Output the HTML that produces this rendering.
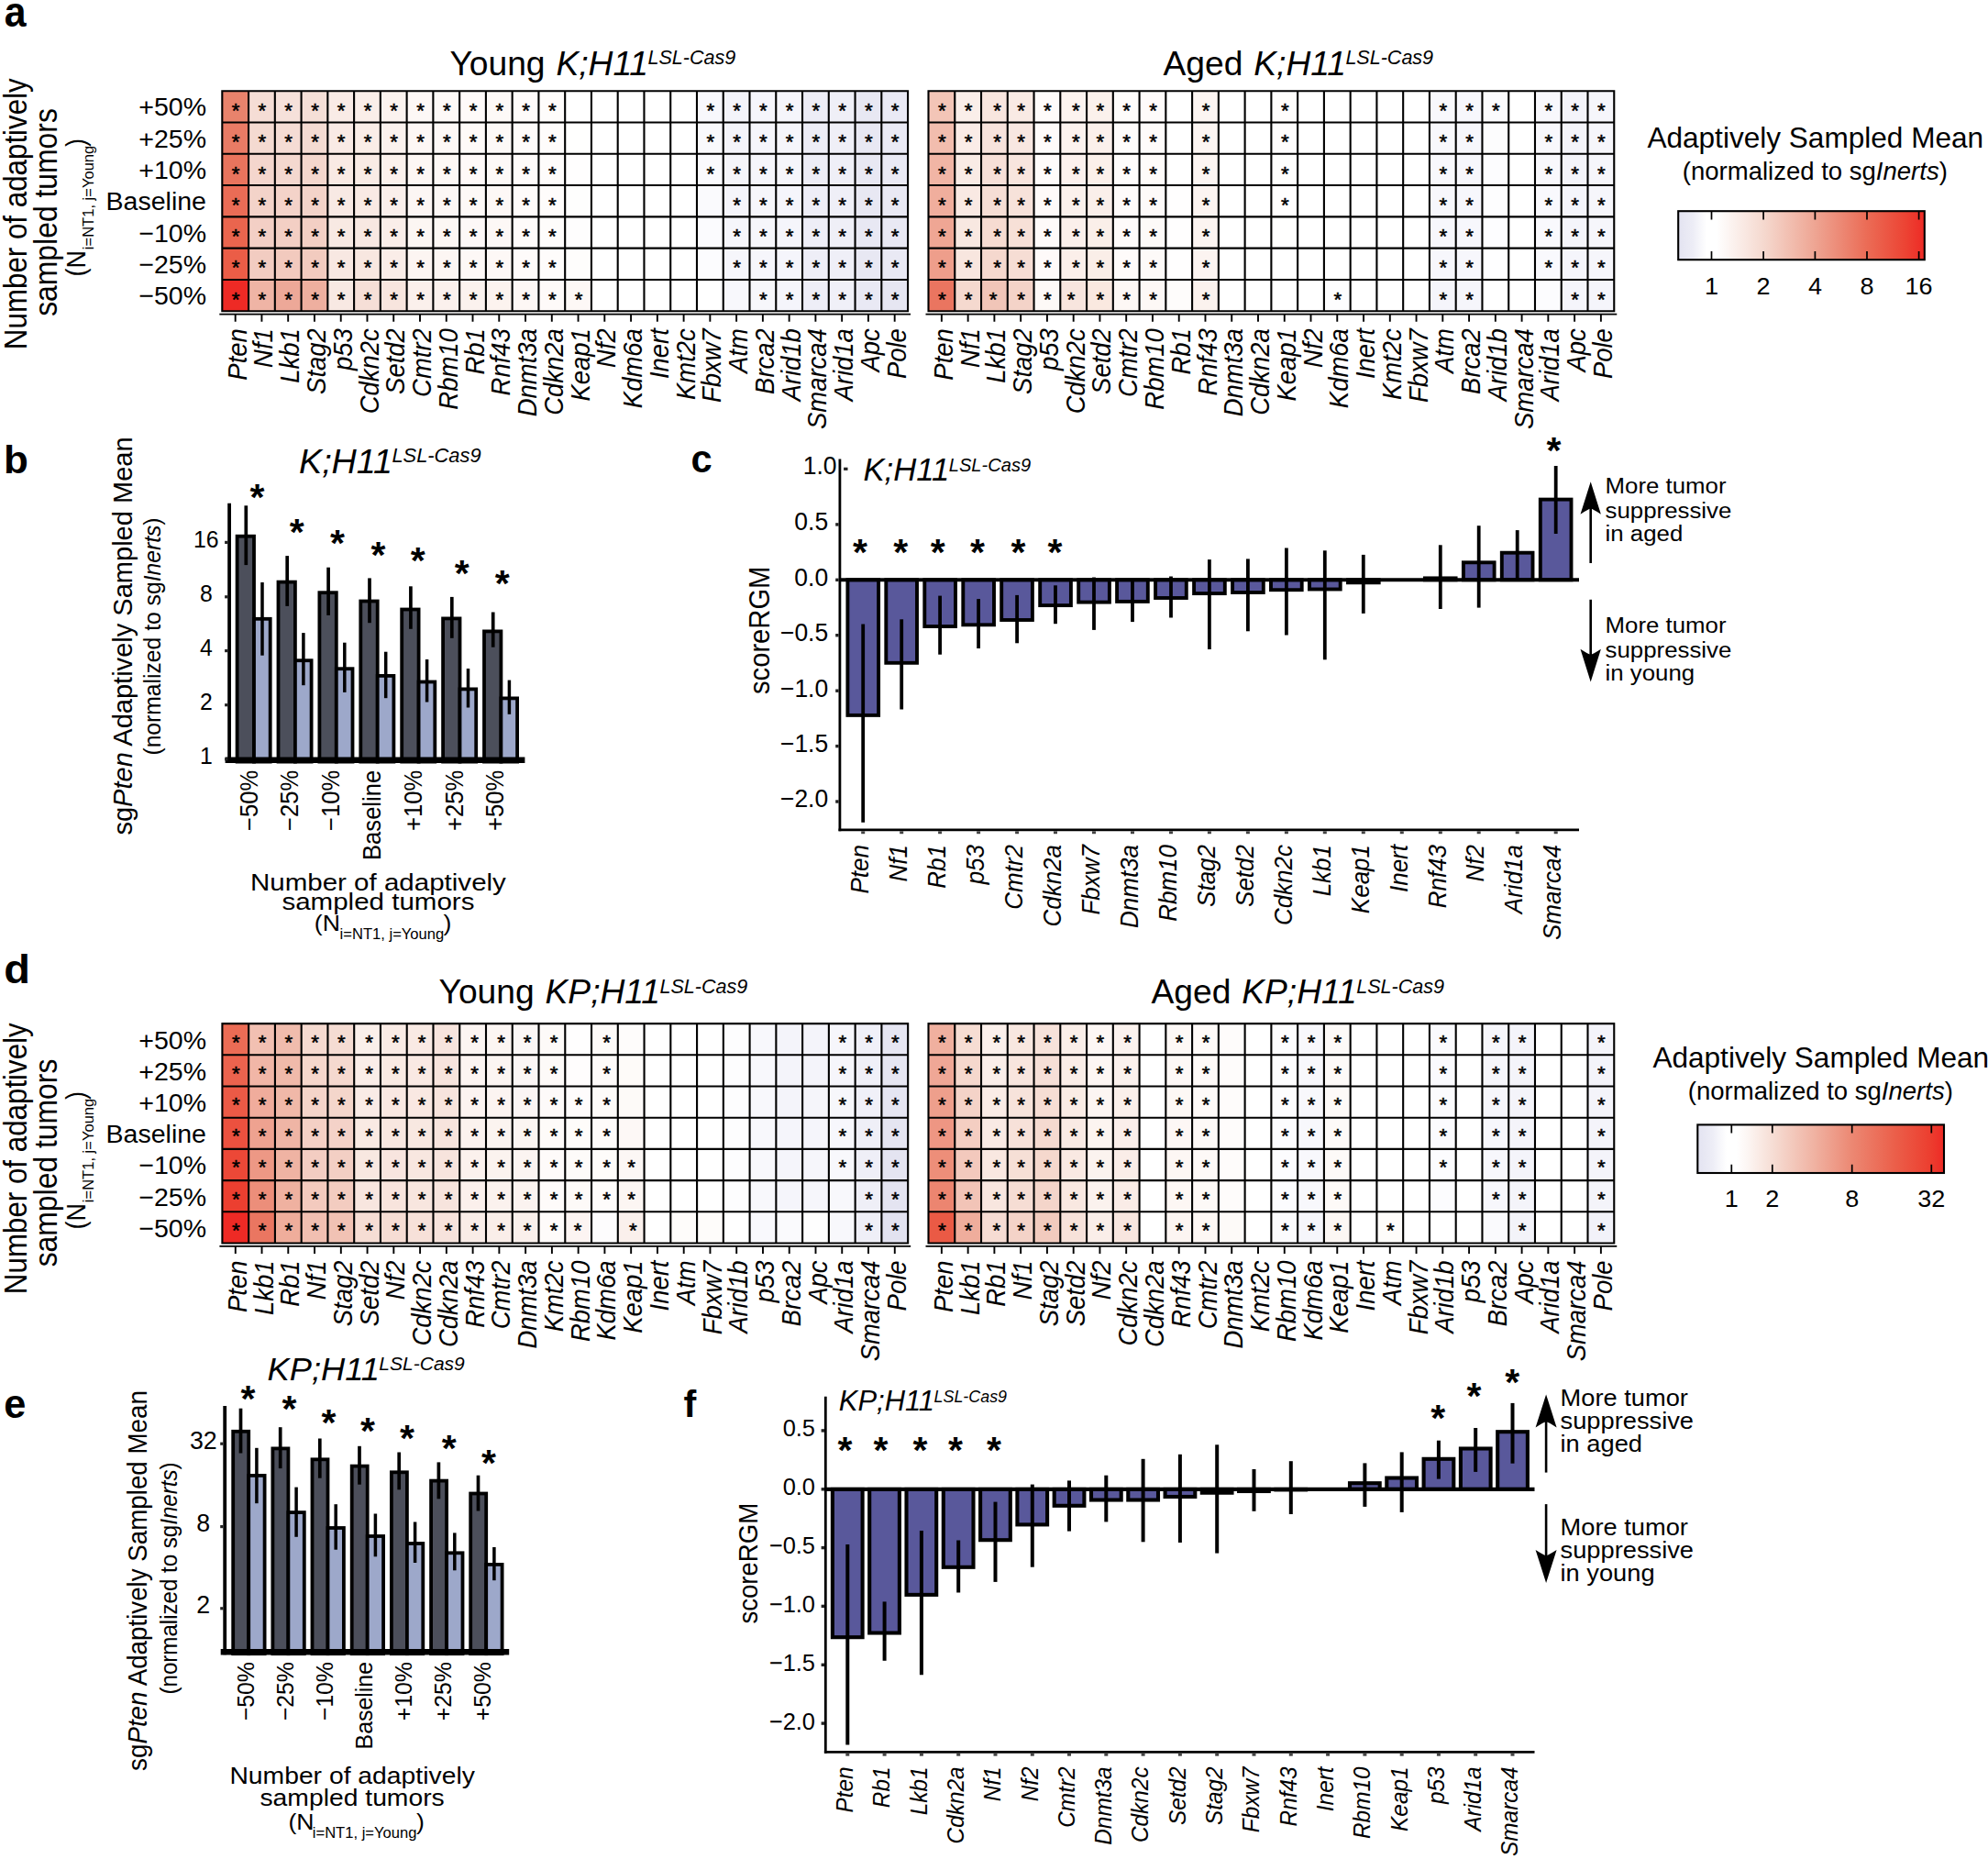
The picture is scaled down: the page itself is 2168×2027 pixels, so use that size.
<!DOCTYPE html>
<html><head><meta charset="utf-8"><title>Figure</title>
<style>html,body{margin:0;padding:0;background:#fff}svg{display:block}.st text{stroke:#000;stroke-width:.5px}text{stroke:none;font-family:"Liberation Sans", Arial, Helvetica, sans-serif;fill:#000}</style>
</head><body>
<svg width="2168" height="2027" viewBox="0 0 2168 2027" stroke="#000">
<rect x="0" y="0" width="2168" height="2027" fill="#fff" stroke="none"/>
<g stroke="#000">
<g id="hm">
<rect x="242.3" y="99.2" width="28.8" height="34.3" fill="#E8836C" stroke="none"/>
<rect x="242.3" y="133.5" width="28.8" height="34.3" fill="#E97B65" stroke="none"/>
<rect x="242.3" y="167.8" width="28.8" height="34.3" fill="#E9745D" stroke="none"/>
<rect x="242.3" y="202.1" width="28.8" height="34.3" fill="#EA6C56" stroke="none"/>
<rect x="242.3" y="236.4" width="28.8" height="34.3" fill="#EA654E" stroke="none"/>
<rect x="242.3" y="270.6" width="28.8" height="34.3" fill="#EB5D47" stroke="none"/>
<rect x="242.3" y="304.9" width="28.8" height="34.3" fill="#EE2A25" stroke="none"/>
<rect x="271.1" y="99.2" width="28.8" height="34.3" fill="#F5DDD5" stroke="none"/>
<rect x="271.1" y="133.5" width="28.8" height="34.3" fill="#F4DAD1" stroke="none"/>
<rect x="271.1" y="167.8" width="28.8" height="34.3" fill="#F4D6CD" stroke="none"/>
<rect x="271.1" y="202.1" width="28.8" height="34.3" fill="#F3D3C9" stroke="none"/>
<rect x="271.1" y="236.4" width="28.8" height="34.3" fill="#F3CFC5" stroke="none"/>
<rect x="271.1" y="270.6" width="28.8" height="34.3" fill="#F2CCC1" stroke="none"/>
<rect x="271.1" y="304.9" width="28.8" height="34.3" fill="#EFB4A5" stroke="none"/>
<rect x="299.8" y="99.2" width="28.8" height="34.3" fill="#F6E1DA" stroke="none"/>
<rect x="299.8" y="133.5" width="28.8" height="34.3" fill="#F5DCD4" stroke="none"/>
<rect x="299.8" y="167.8" width="28.8" height="34.3" fill="#F4D8CF" stroke="none"/>
<rect x="299.8" y="202.1" width="28.8" height="34.3" fill="#F4D3C9" stroke="none"/>
<rect x="299.8" y="236.4" width="28.8" height="34.3" fill="#F3CFC4" stroke="none"/>
<rect x="299.8" y="270.6" width="28.8" height="34.3" fill="#F2CABE" stroke="none"/>
<rect x="299.8" y="304.9" width="28.8" height="34.3" fill="#EDA898" stroke="none"/>
<rect x="328.6" y="99.2" width="28.8" height="34.3" fill="#F5DFD7" stroke="none"/>
<rect x="328.6" y="133.5" width="28.8" height="34.3" fill="#F4DBD2" stroke="none"/>
<rect x="328.6" y="167.8" width="28.8" height="34.3" fill="#F4D7CD" stroke="none"/>
<rect x="328.6" y="202.1" width="28.8" height="34.3" fill="#F3D3C9" stroke="none"/>
<rect x="328.6" y="236.4" width="28.8" height="34.3" fill="#F3CFC4" stroke="none"/>
<rect x="328.6" y="270.6" width="28.8" height="34.3" fill="#F2CBBF" stroke="none"/>
<rect x="328.6" y="304.9" width="28.8" height="34.3" fill="#EEAF9F" stroke="none"/>
<rect x="357.3" y="99.2" width="28.8" height="34.3" fill="#F9EBE6" stroke="none"/>
<rect x="357.3" y="133.5" width="28.8" height="34.3" fill="#F9EAE5" stroke="none"/>
<rect x="357.3" y="167.8" width="28.8" height="34.3" fill="#F9EAE4" stroke="none"/>
<rect x="357.3" y="202.1" width="28.8" height="34.3" fill="#F8E9E4" stroke="none"/>
<rect x="357.3" y="236.4" width="28.8" height="34.3" fill="#F8E9E3" stroke="none"/>
<rect x="357.3" y="270.6" width="28.8" height="34.3" fill="#F8E8E2" stroke="none"/>
<rect x="357.3" y="304.9" width="28.8" height="34.3" fill="#F8E9E3" stroke="none"/>
<rect x="386.1" y="99.2" width="28.8" height="34.3" fill="#FAEEE9" stroke="none"/>
<rect x="386.1" y="133.5" width="28.8" height="34.3" fill="#FAEDE7" stroke="none"/>
<rect x="386.1" y="167.8" width="28.8" height="34.3" fill="#F9EBE5" stroke="none"/>
<rect x="386.1" y="202.1" width="28.8" height="34.3" fill="#F9EAE4" stroke="none"/>
<rect x="386.1" y="236.4" width="28.8" height="34.3" fill="#F8E8E2" stroke="none"/>
<rect x="386.1" y="270.6" width="28.8" height="34.3" fill="#F8E7E0" stroke="none"/>
<rect x="386.1" y="304.9" width="28.8" height="34.3" fill="#F6DFD7" stroke="none"/>
<rect x="414.9" y="99.2" width="28.8" height="34.3" fill="#FBF3EF" stroke="none"/>
<rect x="414.9" y="133.5" width="28.8" height="34.3" fill="#FBF2EE" stroke="none"/>
<rect x="414.9" y="167.8" width="28.8" height="34.3" fill="#FBF1EC" stroke="none"/>
<rect x="414.9" y="202.1" width="28.8" height="34.3" fill="#FAEFEB" stroke="none"/>
<rect x="414.9" y="236.4" width="28.8" height="34.3" fill="#FAEEE9" stroke="none"/>
<rect x="414.9" y="270.6" width="28.8" height="34.3" fill="#FAEDE8" stroke="none"/>
<rect x="414.9" y="304.9" width="28.8" height="34.3" fill="#F8E5DE" stroke="none"/>
<rect x="443.6" y="99.2" width="28.8" height="34.3" fill="#FDF8F6" stroke="none"/>
<rect x="443.6" y="133.5" width="28.8" height="34.3" fill="#FDF7F5" stroke="none"/>
<rect x="443.6" y="167.8" width="28.8" height="34.3" fill="#FDF7F4" stroke="none"/>
<rect x="443.6" y="202.1" width="28.8" height="34.3" fill="#FCF6F4" stroke="none"/>
<rect x="443.6" y="236.4" width="28.8" height="34.3" fill="#FCF6F3" stroke="none"/>
<rect x="443.6" y="270.6" width="28.8" height="34.3" fill="#FCF5F2" stroke="none"/>
<rect x="443.6" y="304.9" width="28.8" height="34.3" fill="#FBF0EC" stroke="none"/>
<rect x="472.4" y="99.2" width="28.8" height="34.3" fill="#FDF9F7" stroke="none"/>
<rect x="472.4" y="133.5" width="28.8" height="34.3" fill="#FDF8F6" stroke="none"/>
<rect x="472.4" y="167.8" width="28.8" height="34.3" fill="#FDF8F5" stroke="none"/>
<rect x="472.4" y="202.1" width="28.8" height="34.3" fill="#FCF7F5" stroke="none"/>
<rect x="472.4" y="236.4" width="28.8" height="34.3" fill="#FCF7F4" stroke="none"/>
<rect x="472.4" y="270.6" width="28.8" height="34.3" fill="#FCF6F3" stroke="none"/>
<rect x="472.4" y="304.9" width="28.8" height="34.3" fill="#FBF1ED" stroke="none"/>
<rect x="501.1" y="99.2" width="28.8" height="34.3" fill="#FEFAF9" stroke="none"/>
<rect x="501.1" y="133.5" width="28.8" height="34.3" fill="#FEFAF8" stroke="none"/>
<rect x="501.1" y="167.8" width="28.8" height="34.3" fill="#FEF9F8" stroke="none"/>
<rect x="501.1" y="202.1" width="28.8" height="34.3" fill="#FDF9F7" stroke="none"/>
<rect x="501.1" y="236.4" width="28.8" height="34.3" fill="#FDF8F7" stroke="none"/>
<rect x="501.1" y="270.6" width="28.8" height="34.3" fill="#FDF8F6" stroke="none"/>
<rect x="501.1" y="304.9" width="28.8" height="34.3" fill="#FBF2EE" stroke="none"/>
<rect x="529.9" y="99.2" width="28.8" height="34.3" fill="#FDF9F7" stroke="none"/>
<rect x="529.9" y="133.5" width="28.8" height="34.3" fill="#FDF9F7" stroke="none"/>
<rect x="529.9" y="167.8" width="28.8" height="34.3" fill="#FDF9F7" stroke="none"/>
<rect x="529.9" y="202.1" width="28.8" height="34.3" fill="#FDF8F6" stroke="none"/>
<rect x="529.9" y="236.4" width="28.8" height="34.3" fill="#FDF8F6" stroke="none"/>
<rect x="529.9" y="270.6" width="28.8" height="34.3" fill="#FDF8F6" stroke="none"/>
<rect x="529.9" y="304.9" width="28.8" height="34.3" fill="#FCF3EF" stroke="none"/>
<rect x="558.7" y="99.2" width="28.8" height="34.3" fill="#FEFBFA" stroke="none"/>
<rect x="558.7" y="133.5" width="28.8" height="34.3" fill="#FEFBFA" stroke="none"/>
<rect x="558.7" y="167.8" width="28.8" height="34.3" fill="#FEFBFA" stroke="none"/>
<rect x="558.7" y="202.1" width="28.8" height="34.3" fill="#FEFBFA" stroke="none"/>
<rect x="558.7" y="236.4" width="28.8" height="34.3" fill="#FEFBFA" stroke="none"/>
<rect x="558.7" y="270.6" width="28.8" height="34.3" fill="#FEFBFA" stroke="none"/>
<rect x="558.7" y="304.9" width="28.8" height="34.3" fill="#FDF7F5" stroke="none"/>
<rect x="587.4" y="99.2" width="28.8" height="34.3" fill="#FEFCFB" stroke="none"/>
<rect x="587.4" y="133.5" width="28.8" height="34.3" fill="#FEFCFB" stroke="none"/>
<rect x="587.4" y="167.8" width="28.8" height="34.3" fill="#FEFCFB" stroke="none"/>
<rect x="587.4" y="202.1" width="28.8" height="34.3" fill="#FEFCFB" stroke="none"/>
<rect x="587.4" y="236.4" width="28.8" height="34.3" fill="#FEFCFB" stroke="none"/>
<rect x="587.4" y="270.6" width="28.8" height="34.3" fill="#FEFCFB" stroke="none"/>
<rect x="587.4" y="304.9" width="28.8" height="34.3" fill="#FEFAF9" stroke="none"/>
<rect x="616.2" y="133.5" width="28.8" height="34.3" fill="#FFFFFE" stroke="none"/>
<rect x="616.2" y="167.8" width="28.8" height="34.3" fill="#FFFEFE" stroke="none"/>
<rect x="616.2" y="202.1" width="28.8" height="34.3" fill="#FEFEFD" stroke="none"/>
<rect x="616.2" y="236.4" width="28.8" height="34.3" fill="#FEFDFD" stroke="none"/>
<rect x="616.2" y="270.6" width="28.8" height="34.3" fill="#FEFDFC" stroke="none"/>
<rect x="616.2" y="304.9" width="28.8" height="34.3" fill="#FDF8F6" stroke="none"/>
<rect x="760.0" y="99.2" width="28.8" height="34.3" fill="#F8F8FC" stroke="none"/>
<rect x="760.0" y="133.5" width="28.8" height="34.3" fill="#F9F9FC" stroke="none"/>
<rect x="760.0" y="167.8" width="28.8" height="34.3" fill="#FAFAFD" stroke="none"/>
<rect x="760.0" y="202.1" width="28.8" height="34.3" fill="#FAFAFD" stroke="none"/>
<rect x="760.0" y="236.4" width="28.8" height="34.3" fill="#FBFBFE" stroke="none"/>
<rect x="760.0" y="270.6" width="28.8" height="34.3" fill="#FCFCFE" stroke="none"/>
<rect x="788.7" y="99.2" width="28.8" height="34.3" fill="#F4F4FA" stroke="none"/>
<rect x="788.7" y="133.5" width="28.8" height="34.3" fill="#F4F4FA" stroke="none"/>
<rect x="788.7" y="167.8" width="28.8" height="34.3" fill="#F5F5FA" stroke="none"/>
<rect x="788.7" y="202.1" width="28.8" height="34.3" fill="#F5F5FB" stroke="none"/>
<rect x="788.7" y="236.4" width="28.8" height="34.3" fill="#F6F6FB" stroke="none"/>
<rect x="788.7" y="270.6" width="28.8" height="34.3" fill="#F6F6FB" stroke="none"/>
<rect x="788.7" y="304.9" width="28.8" height="34.3" fill="#F8F8FC" stroke="none"/>
<rect x="817.5" y="99.2" width="28.8" height="34.3" fill="#F5F5FB" stroke="none"/>
<rect x="817.5" y="133.5" width="28.8" height="34.3" fill="#F5F5FB" stroke="none"/>
<rect x="817.5" y="167.8" width="28.8" height="34.3" fill="#F5F5FB" stroke="none"/>
<rect x="817.5" y="202.1" width="28.8" height="34.3" fill="#F6F6FB" stroke="none"/>
<rect x="817.5" y="236.4" width="28.8" height="34.3" fill="#F6F6FB" stroke="none"/>
<rect x="817.5" y="270.6" width="28.8" height="34.3" fill="#F6F6FB" stroke="none"/>
<rect x="817.5" y="304.9" width="28.8" height="34.3" fill="#F7F7FB" stroke="none"/>
<rect x="846.3" y="99.2" width="28.8" height="34.3" fill="#F5F5FB" stroke="none"/>
<rect x="846.3" y="133.5" width="28.8" height="34.3" fill="#F5F5FB" stroke="none"/>
<rect x="846.3" y="167.8" width="28.8" height="34.3" fill="#F5F5FB" stroke="none"/>
<rect x="846.3" y="202.1" width="28.8" height="34.3" fill="#F5F5FB" stroke="none"/>
<rect x="846.3" y="236.4" width="28.8" height="34.3" fill="#F5F5FB" stroke="none"/>
<rect x="846.3" y="270.6" width="28.8" height="34.3" fill="#F5F5FB" stroke="none"/>
<rect x="846.3" y="304.9" width="28.8" height="34.3" fill="#F5F5FB" stroke="none"/>
<rect x="875.0" y="99.2" width="28.8" height="34.3" fill="#EDEDF6" stroke="none"/>
<rect x="875.0" y="133.5" width="28.8" height="34.3" fill="#EDEDF6" stroke="none"/>
<rect x="875.0" y="167.8" width="28.8" height="34.3" fill="#EDEDF6" stroke="none"/>
<rect x="875.0" y="202.1" width="28.8" height="34.3" fill="#EEEEF7" stroke="none"/>
<rect x="875.0" y="236.4" width="28.8" height="34.3" fill="#EEEEF7" stroke="none"/>
<rect x="875.0" y="270.6" width="28.8" height="34.3" fill="#EEEEF7" stroke="none"/>
<rect x="875.0" y="304.9" width="28.8" height="34.3" fill="#EEEEF7" stroke="none"/>
<rect x="903.8" y="99.2" width="28.8" height="34.3" fill="#EFEFF7" stroke="none"/>
<rect x="903.8" y="133.5" width="28.8" height="34.3" fill="#EFEFF7" stroke="none"/>
<rect x="903.8" y="167.8" width="28.8" height="34.3" fill="#EFEFF7" stroke="none"/>
<rect x="903.8" y="202.1" width="28.8" height="34.3" fill="#EFEFF7" stroke="none"/>
<rect x="903.8" y="236.4" width="28.8" height="34.3" fill="#EFEFF7" stroke="none"/>
<rect x="903.8" y="270.6" width="28.8" height="34.3" fill="#EFEFF7" stroke="none"/>
<rect x="903.8" y="304.9" width="28.8" height="34.3" fill="#F0F0F8" stroke="none"/>
<rect x="932.5" y="99.2" width="28.8" height="34.3" fill="#E8E8F3" stroke="none"/>
<rect x="932.5" y="133.5" width="28.8" height="34.3" fill="#E8E8F3" stroke="none"/>
<rect x="932.5" y="167.8" width="28.8" height="34.3" fill="#E8E8F3" stroke="none"/>
<rect x="932.5" y="202.1" width="28.8" height="34.3" fill="#E8E8F3" stroke="none"/>
<rect x="932.5" y="236.4" width="28.8" height="34.3" fill="#E8E8F3" stroke="none"/>
<rect x="932.5" y="270.6" width="28.8" height="34.3" fill="#E8E8F3" stroke="none"/>
<rect x="932.5" y="304.9" width="28.8" height="34.3" fill="#E9E9F4" stroke="none"/>
<rect x="961.3" y="99.2" width="28.8" height="34.3" fill="#EAEAF5" stroke="none"/>
<rect x="961.3" y="133.5" width="28.8" height="34.3" fill="#EAEAF5" stroke="none"/>
<rect x="961.3" y="167.8" width="28.8" height="34.3" fill="#EAEAF5" stroke="none"/>
<rect x="961.3" y="202.1" width="28.8" height="34.3" fill="#E9E9F4" stroke="none"/>
<rect x="961.3" y="236.4" width="28.8" height="34.3" fill="#E9E9F4" stroke="none"/>
<rect x="961.3" y="270.6" width="28.8" height="34.3" fill="#E9E9F4" stroke="none"/>
<rect x="961.3" y="304.9" width="28.8" height="34.3" fill="#E6E6F2" stroke="none"/>
<path d="M242.30 98.30V340.13M271.06 98.30V340.13M299.82 98.30V340.13M328.58 98.30V340.13M357.34 98.30V340.13M386.10 98.30V340.13M414.86 98.30V340.13M443.62 98.30V340.13M472.38 98.30V340.13M501.14 98.30V340.13M529.90 98.30V340.13M558.66 98.30V340.13M587.42 98.30V340.13M616.18 98.30V340.13M644.94 98.30V340.13M673.70 98.30V340.13M702.46 98.30V340.13M731.22 98.30V340.13M759.98 98.30V340.13M788.74 98.30V340.13M817.50 98.30V340.13M846.26 98.30V340.13M875.02 98.30V340.13M903.78 98.30V340.13M932.54 98.30V340.13M961.30 98.30V340.13M990.06 98.30V340.13M241.40 99.20H990.96M241.40 133.49H990.96M241.40 167.78H990.96M241.40 202.07H990.96M241.40 236.36H990.96M241.40 270.65H990.96M241.40 304.94H990.96M241.40 339.23H990.96" stroke-width="2.1" fill="none"/>
<path d="M239.30 342.63H993.06M256.68 342.63V350.63M285.44 342.63V350.63M314.20 342.63V350.63M342.96 342.63V350.63M371.72 342.63V350.63M400.48 342.63V350.63M429.24 342.63V350.63M458.00 342.63V350.63M486.76 342.63V350.63M515.52 342.63V350.63M544.28 342.63V350.63M573.04 342.63V350.63M601.80 342.63V350.63M630.56 342.63V350.63M659.32 342.63V350.63M688.08 342.63V350.63M716.84 342.63V350.63M745.60 342.63V350.63M774.36 342.63V350.63M803.12 342.63V350.63M831.88 342.63V350.63M860.64 342.63V350.63M889.40 342.63V350.63M918.16 342.63V350.63M946.92 342.63V350.63M975.68 342.63V350.63" stroke-width="1.9" fill="none"/>
<g class="st" font-size="21.5" text-anchor="middle">
<text transform="translate(257.2 127.9) scale(1.04 1)">*</text>
<text transform="translate(285.9 127.9) scale(1.04 1)">*</text>
<text transform="translate(314.7 127.9) scale(1.04 1)">*</text>
<text transform="translate(343.5 127.9) scale(1.04 1)">*</text>
<text transform="translate(372.2 127.9) scale(1.04 1)">*</text>
<text transform="translate(401.0 127.9) scale(1.04 1)">*</text>
<text transform="translate(429.7 127.9) scale(1.04 1)">*</text>
<text transform="translate(458.5 127.9) scale(1.04 1)">*</text>
<text transform="translate(487.3 127.9) scale(1.04 1)">*</text>
<text transform="translate(516.0 127.9) scale(1.04 1)">*</text>
<text transform="translate(544.8 127.9) scale(1.04 1)">*</text>
<text transform="translate(573.5 127.9) scale(1.04 1)">*</text>
<text transform="translate(602.3 127.9) scale(1.04 1)">*</text>
<text transform="translate(774.9 127.9) scale(1.04 1)">*</text>
<text transform="translate(803.6 127.9) scale(1.04 1)">*</text>
<text transform="translate(832.4 127.9) scale(1.04 1)">*</text>
<text transform="translate(861.1 127.9) scale(1.04 1)">*</text>
<text transform="translate(889.9 127.9) scale(1.04 1)">*</text>
<text transform="translate(918.7 127.9) scale(1.04 1)">*</text>
<text transform="translate(947.4 127.9) scale(1.04 1)">*</text>
<text transform="translate(976.2 127.9) scale(1.04 1)">*</text>
<text transform="translate(257.2 162.2) scale(1.04 1)">*</text>
<text transform="translate(285.9 162.2) scale(1.04 1)">*</text>
<text transform="translate(314.7 162.2) scale(1.04 1)">*</text>
<text transform="translate(343.5 162.2) scale(1.04 1)">*</text>
<text transform="translate(372.2 162.2) scale(1.04 1)">*</text>
<text transform="translate(401.0 162.2) scale(1.04 1)">*</text>
<text transform="translate(429.7 162.2) scale(1.04 1)">*</text>
<text transform="translate(458.5 162.2) scale(1.04 1)">*</text>
<text transform="translate(487.3 162.2) scale(1.04 1)">*</text>
<text transform="translate(516.0 162.2) scale(1.04 1)">*</text>
<text transform="translate(544.8 162.2) scale(1.04 1)">*</text>
<text transform="translate(573.5 162.2) scale(1.04 1)">*</text>
<text transform="translate(602.3 162.2) scale(1.04 1)">*</text>
<text transform="translate(774.9 162.2) scale(1.04 1)">*</text>
<text transform="translate(803.6 162.2) scale(1.04 1)">*</text>
<text transform="translate(832.4 162.2) scale(1.04 1)">*</text>
<text transform="translate(861.1 162.2) scale(1.04 1)">*</text>
<text transform="translate(889.9 162.2) scale(1.04 1)">*</text>
<text transform="translate(918.7 162.2) scale(1.04 1)">*</text>
<text transform="translate(947.4 162.2) scale(1.04 1)">*</text>
<text transform="translate(976.2 162.2) scale(1.04 1)">*</text>
<text transform="translate(257.2 196.5) scale(1.04 1)">*</text>
<text transform="translate(285.9 196.5) scale(1.04 1)">*</text>
<text transform="translate(314.7 196.5) scale(1.04 1)">*</text>
<text transform="translate(343.5 196.5) scale(1.04 1)">*</text>
<text transform="translate(372.2 196.5) scale(1.04 1)">*</text>
<text transform="translate(401.0 196.5) scale(1.04 1)">*</text>
<text transform="translate(429.7 196.5) scale(1.04 1)">*</text>
<text transform="translate(458.5 196.5) scale(1.04 1)">*</text>
<text transform="translate(487.3 196.5) scale(1.04 1)">*</text>
<text transform="translate(516.0 196.5) scale(1.04 1)">*</text>
<text transform="translate(544.8 196.5) scale(1.04 1)">*</text>
<text transform="translate(573.5 196.5) scale(1.04 1)">*</text>
<text transform="translate(602.3 196.5) scale(1.04 1)">*</text>
<text transform="translate(774.9 196.5) scale(1.04 1)">*</text>
<text transform="translate(803.6 196.5) scale(1.04 1)">*</text>
<text transform="translate(832.4 196.5) scale(1.04 1)">*</text>
<text transform="translate(861.1 196.5) scale(1.04 1)">*</text>
<text transform="translate(889.9 196.5) scale(1.04 1)">*</text>
<text transform="translate(918.7 196.5) scale(1.04 1)">*</text>
<text transform="translate(947.4 196.5) scale(1.04 1)">*</text>
<text transform="translate(976.2 196.5) scale(1.04 1)">*</text>
<text transform="translate(257.2 230.8) scale(1.04 1)">*</text>
<text transform="translate(285.9 230.8) scale(1.04 1)">*</text>
<text transform="translate(314.7 230.8) scale(1.04 1)">*</text>
<text transform="translate(343.5 230.8) scale(1.04 1)">*</text>
<text transform="translate(372.2 230.8) scale(1.04 1)">*</text>
<text transform="translate(401.0 230.8) scale(1.04 1)">*</text>
<text transform="translate(429.7 230.8) scale(1.04 1)">*</text>
<text transform="translate(458.5 230.8) scale(1.04 1)">*</text>
<text transform="translate(487.3 230.8) scale(1.04 1)">*</text>
<text transform="translate(516.0 230.8) scale(1.04 1)">*</text>
<text transform="translate(544.8 230.8) scale(1.04 1)">*</text>
<text transform="translate(573.5 230.8) scale(1.04 1)">*</text>
<text transform="translate(602.3 230.8) scale(1.04 1)">*</text>
<text transform="translate(803.6 230.8) scale(1.04 1)">*</text>
<text transform="translate(832.4 230.8) scale(1.04 1)">*</text>
<text transform="translate(861.1 230.8) scale(1.04 1)">*</text>
<text transform="translate(889.9 230.8) scale(1.04 1)">*</text>
<text transform="translate(918.7 230.8) scale(1.04 1)">*</text>
<text transform="translate(947.4 230.8) scale(1.04 1)">*</text>
<text transform="translate(976.2 230.8) scale(1.04 1)">*</text>
<text transform="translate(257.2 265.1) scale(1.04 1)">*</text>
<text transform="translate(285.9 265.1) scale(1.04 1)">*</text>
<text transform="translate(314.7 265.1) scale(1.04 1)">*</text>
<text transform="translate(343.5 265.1) scale(1.04 1)">*</text>
<text transform="translate(372.2 265.1) scale(1.04 1)">*</text>
<text transform="translate(401.0 265.1) scale(1.04 1)">*</text>
<text transform="translate(429.7 265.1) scale(1.04 1)">*</text>
<text transform="translate(458.5 265.1) scale(1.04 1)">*</text>
<text transform="translate(487.3 265.1) scale(1.04 1)">*</text>
<text transform="translate(516.0 265.1) scale(1.04 1)">*</text>
<text transform="translate(544.8 265.1) scale(1.04 1)">*</text>
<text transform="translate(573.5 265.1) scale(1.04 1)">*</text>
<text transform="translate(602.3 265.1) scale(1.04 1)">*</text>
<text transform="translate(803.6 265.1) scale(1.04 1)">*</text>
<text transform="translate(832.4 265.1) scale(1.04 1)">*</text>
<text transform="translate(861.1 265.1) scale(1.04 1)">*</text>
<text transform="translate(889.9 265.1) scale(1.04 1)">*</text>
<text transform="translate(918.7 265.1) scale(1.04 1)">*</text>
<text transform="translate(947.4 265.1) scale(1.04 1)">*</text>
<text transform="translate(976.2 265.1) scale(1.04 1)">*</text>
<text transform="translate(257.2 299.4) scale(1.04 1)">*</text>
<text transform="translate(285.9 299.4) scale(1.04 1)">*</text>
<text transform="translate(314.7 299.4) scale(1.04 1)">*</text>
<text transform="translate(343.5 299.4) scale(1.04 1)">*</text>
<text transform="translate(372.2 299.4) scale(1.04 1)">*</text>
<text transform="translate(401.0 299.4) scale(1.04 1)">*</text>
<text transform="translate(429.7 299.4) scale(1.04 1)">*</text>
<text transform="translate(458.5 299.4) scale(1.04 1)">*</text>
<text transform="translate(487.3 299.4) scale(1.04 1)">*</text>
<text transform="translate(516.0 299.4) scale(1.04 1)">*</text>
<text transform="translate(544.8 299.4) scale(1.04 1)">*</text>
<text transform="translate(573.5 299.4) scale(1.04 1)">*</text>
<text transform="translate(602.3 299.4) scale(1.04 1)">*</text>
<text transform="translate(803.6 299.4) scale(1.04 1)">*</text>
<text transform="translate(832.4 299.4) scale(1.04 1)">*</text>
<text transform="translate(861.1 299.4) scale(1.04 1)">*</text>
<text transform="translate(889.9 299.4) scale(1.04 1)">*</text>
<text transform="translate(918.7 299.4) scale(1.04 1)">*</text>
<text transform="translate(947.4 299.4) scale(1.04 1)">*</text>
<text transform="translate(976.2 299.4) scale(1.04 1)">*</text>
<text transform="translate(257.2 333.7) scale(1.04 1)">*</text>
<text transform="translate(285.9 333.7) scale(1.04 1)">*</text>
<text transform="translate(314.7 333.7) scale(1.04 1)">*</text>
<text transform="translate(343.5 333.7) scale(1.04 1)">*</text>
<text transform="translate(372.2 333.7) scale(1.04 1)">*</text>
<text transform="translate(401.0 333.7) scale(1.04 1)">*</text>
<text transform="translate(429.7 333.7) scale(1.04 1)">*</text>
<text transform="translate(458.5 333.7) scale(1.04 1)">*</text>
<text transform="translate(487.3 333.7) scale(1.04 1)">*</text>
<text transform="translate(516.0 333.7) scale(1.04 1)">*</text>
<text transform="translate(544.8 333.7) scale(1.04 1)">*</text>
<text transform="translate(573.5 333.7) scale(1.04 1)">*</text>
<text transform="translate(602.3 333.7) scale(1.04 1)">*</text>
<text transform="translate(631.1 333.7) scale(1.04 1)">*</text>
<text transform="translate(832.4 333.7) scale(1.04 1)">*</text>
<text transform="translate(861.1 333.7) scale(1.04 1)">*</text>
<text transform="translate(889.9 333.7) scale(1.04 1)">*</text>
<text transform="translate(918.7 333.7) scale(1.04 1)">*</text>
<text transform="translate(947.4 333.7) scale(1.04 1)">*</text>
<text transform="translate(976.2 333.7) scale(1.04 1)">*</text>
</g>
<g font-size="28.6" font-style="italic" text-anchor="end">
<text transform="translate(268.7 358.2) rotate(-90) scale(0.96 1)">Pten</text>
<text transform="translate(297.4 358.2) rotate(-90) scale(0.96 1)">Nf1</text>
<text transform="translate(326.2 358.2) rotate(-90) scale(0.96 1)">Lkb1</text>
<text transform="translate(355.0 358.2) rotate(-90) scale(0.96 1)">Stag2</text>
<text transform="translate(383.7 358.2) rotate(-90) scale(0.96 1)">p53</text>
<text transform="translate(412.5 358.2) rotate(-90) scale(0.96 1)">Cdkn2c</text>
<text transform="translate(441.2 358.2) rotate(-90) scale(0.96 1)">Setd2</text>
<text transform="translate(470.0 358.2) rotate(-90) scale(0.96 1)">Cmtr2</text>
<text transform="translate(498.8 358.2) rotate(-90) scale(0.96 1)">Rbm10</text>
<text transform="translate(527.5 358.2) rotate(-90) scale(0.96 1)">Rb1</text>
<text transform="translate(556.3 358.2) rotate(-90) scale(0.96 1)">Rnf43</text>
<text transform="translate(585.0 358.2) rotate(-90) scale(0.96 1)">Dnmt3a</text>
<text transform="translate(613.8 358.2) rotate(-90) scale(0.96 1)">Cdkn2a</text>
<text transform="translate(642.6 358.2) rotate(-90) scale(0.96 1)">Keap1</text>
<text transform="translate(671.3 358.2) rotate(-90) scale(0.96 1)">Nf2</text>
<text transform="translate(700.1 358.2) rotate(-90) scale(0.96 1)">Kdm6a</text>
<text transform="translate(728.8 358.2) rotate(-90) scale(0.96 1)">Inert</text>
<text transform="translate(757.6 358.2) rotate(-90) scale(0.96 1)">Kmt2c</text>
<text transform="translate(786.4 358.2) rotate(-90) scale(0.96 1)">Fbxw7</text>
<text transform="translate(815.1 358.2) rotate(-90) scale(0.96 1)">Atm</text>
<text transform="translate(843.9 358.2) rotate(-90) scale(0.96 1)">Brca2</text>
<text transform="translate(872.6 358.2) rotate(-90) scale(0.96 1)">Arid1b</text>
<text transform="translate(901.4 358.2) rotate(-90) scale(0.96 1)">Smarca4</text>
<text transform="translate(930.2 358.2) rotate(-90) scale(0.96 1)">Arid1a</text>
<text transform="translate(958.9 358.2) rotate(-90) scale(0.96 1)">Apc</text>
<text transform="translate(987.7 358.2) rotate(-90) scale(0.96 1)">Pole</text>
</g>
<rect x="1012.5" y="99.2" width="28.8" height="34.3" fill="#F3C5B7" stroke="none"/>
<rect x="1012.5" y="133.5" width="28.8" height="34.3" fill="#F2BDAE" stroke="none"/>
<rect x="1012.5" y="167.8" width="28.8" height="34.3" fill="#F1B5A5" stroke="none"/>
<rect x="1012.5" y="202.1" width="28.8" height="34.3" fill="#F0AE9D" stroke="none"/>
<rect x="1012.5" y="236.4" width="28.8" height="34.3" fill="#EFA694" stroke="none"/>
<rect x="1012.5" y="270.6" width="28.8" height="34.3" fill="#EE9E8B" stroke="none"/>
<rect x="1012.5" y="304.9" width="28.8" height="34.3" fill="#EA7560" stroke="none"/>
<rect x="1041.3" y="99.2" width="28.8" height="34.3" fill="#FAEEE9" stroke="none"/>
<rect x="1041.3" y="133.5" width="28.8" height="34.3" fill="#FAECE7" stroke="none"/>
<rect x="1041.3" y="167.8" width="28.8" height="34.3" fill="#F9EBE5" stroke="none"/>
<rect x="1041.3" y="202.1" width="28.8" height="34.3" fill="#F9E9E3" stroke="none"/>
<rect x="1041.3" y="236.4" width="28.8" height="34.3" fill="#F8E8E1" stroke="none"/>
<rect x="1041.3" y="270.6" width="28.8" height="34.3" fill="#F8E6DF" stroke="none"/>
<rect x="1041.3" y="304.9" width="28.8" height="34.3" fill="#F5D9CF" stroke="none"/>
<rect x="1070.0" y="99.2" width="28.8" height="34.3" fill="#F8E6DF" stroke="none"/>
<rect x="1070.0" y="133.5" width="28.8" height="34.3" fill="#F7E3DC" stroke="none"/>
<rect x="1070.0" y="167.8" width="28.8" height="34.3" fill="#F7E0D8" stroke="none"/>
<rect x="1070.0" y="202.1" width="28.8" height="34.3" fill="#F6DED5" stroke="none"/>
<rect x="1070.0" y="236.4" width="28.8" height="34.3" fill="#F6DBD1" stroke="none"/>
<rect x="1070.0" y="270.6" width="28.8" height="34.3" fill="#F5D8CE" stroke="none"/>
<rect x="1070.0" y="304.9" width="28.8" height="34.3" fill="#F1C5B8" stroke="none"/>
<rect x="1098.8" y="99.2" width="28.8" height="34.3" fill="#F9EAE4" stroke="none"/>
<rect x="1098.8" y="133.5" width="28.8" height="34.3" fill="#F8E7E1" stroke="none"/>
<rect x="1098.8" y="167.8" width="28.8" height="34.3" fill="#F8E5DE" stroke="none"/>
<rect x="1098.8" y="202.1" width="28.8" height="34.3" fill="#F7E2DA" stroke="none"/>
<rect x="1098.8" y="236.4" width="28.8" height="34.3" fill="#F7E0D7" stroke="none"/>
<rect x="1098.8" y="270.6" width="28.8" height="34.3" fill="#F6DDD4" stroke="none"/>
<rect x="1098.8" y="304.9" width="28.8" height="34.3" fill="#F4D3C8" stroke="none"/>
<rect x="1127.5" y="99.2" width="28.8" height="34.3" fill="#FEFBFA" stroke="none"/>
<rect x="1127.5" y="133.5" width="28.8" height="34.3" fill="#FEFBFA" stroke="none"/>
<rect x="1127.5" y="167.8" width="28.8" height="34.3" fill="#FEFBFA" stroke="none"/>
<rect x="1127.5" y="202.1" width="28.8" height="34.3" fill="#FEFAF9" stroke="none"/>
<rect x="1127.5" y="236.4" width="28.8" height="34.3" fill="#FEFAF9" stroke="none"/>
<rect x="1127.5" y="270.6" width="28.8" height="34.3" fill="#FEFAF9" stroke="none"/>
<rect x="1127.5" y="304.9" width="28.8" height="34.3" fill="#FDF9F7" stroke="none"/>
<rect x="1156.3" y="99.2" width="28.8" height="34.3" fill="#FCF3EF" stroke="none"/>
<rect x="1156.3" y="133.5" width="28.8" height="34.3" fill="#FCF2EE" stroke="none"/>
<rect x="1156.3" y="167.8" width="28.8" height="34.3" fill="#FCF1ED" stroke="none"/>
<rect x="1156.3" y="202.1" width="28.8" height="34.3" fill="#FBF1EC" stroke="none"/>
<rect x="1156.3" y="236.4" width="28.8" height="34.3" fill="#FBF0EB" stroke="none"/>
<rect x="1156.3" y="270.6" width="28.8" height="34.3" fill="#FBEFEA" stroke="none"/>
<rect x="1156.3" y="304.9" width="28.8" height="34.3" fill="#F8E5DE" stroke="none"/>
<rect x="1185.1" y="99.2" width="28.8" height="34.3" fill="#FBF1EC" stroke="none"/>
<rect x="1185.1" y="133.5" width="28.8" height="34.3" fill="#FBF0EB" stroke="none"/>
<rect x="1185.1" y="167.8" width="28.8" height="34.3" fill="#FBF0EA" stroke="none"/>
<rect x="1185.1" y="202.1" width="28.8" height="34.3" fill="#FAEFEA" stroke="none"/>
<rect x="1185.1" y="236.4" width="28.8" height="34.3" fill="#FAEFE9" stroke="none"/>
<rect x="1185.1" y="270.6" width="28.8" height="34.3" fill="#FAEEE8" stroke="none"/>
<rect x="1185.1" y="304.9" width="28.8" height="34.3" fill="#FAE9E0" stroke="none"/>
<rect x="1213.8" y="99.2" width="28.8" height="34.3" fill="#FEFCFB" stroke="none"/>
<rect x="1213.8" y="133.5" width="28.8" height="34.3" fill="#FEFCFB" stroke="none"/>
<rect x="1213.8" y="167.8" width="28.8" height="34.3" fill="#FEFCFB" stroke="none"/>
<rect x="1213.8" y="202.1" width="28.8" height="34.3" fill="#FEFBFA" stroke="none"/>
<rect x="1213.8" y="236.4" width="28.8" height="34.3" fill="#FEFBFA" stroke="none"/>
<rect x="1213.8" y="270.6" width="28.8" height="34.3" fill="#FEFBFA" stroke="none"/>
<rect x="1213.8" y="304.9" width="28.8" height="34.3" fill="#FDF8F5" stroke="none"/>
<rect x="1242.6" y="99.2" width="28.8" height="34.3" fill="#FEFBFA" stroke="none"/>
<rect x="1242.6" y="133.5" width="28.8" height="34.3" fill="#FEFBFA" stroke="none"/>
<rect x="1242.6" y="167.8" width="28.8" height="34.3" fill="#FEFBF9" stroke="none"/>
<rect x="1242.6" y="202.1" width="28.8" height="34.3" fill="#FDFAF9" stroke="none"/>
<rect x="1242.6" y="236.4" width="28.8" height="34.3" fill="#FDFAF8" stroke="none"/>
<rect x="1242.6" y="270.6" width="28.8" height="34.3" fill="#FDFAF8" stroke="none"/>
<rect x="1242.6" y="304.9" width="28.8" height="34.3" fill="#FDF8F6" stroke="none"/>
<rect x="1271.3" y="202.1" width="28.8" height="34.3" fill="#FFFEFE" stroke="none"/>
<rect x="1271.3" y="236.4" width="28.8" height="34.3" fill="#FFFEFE" stroke="none"/>
<rect x="1271.3" y="270.6" width="28.8" height="34.3" fill="#FFFEFE" stroke="none"/>
<rect x="1271.3" y="304.9" width="28.8" height="34.3" fill="#FEFCFB" stroke="none"/>
<rect x="1300.1" y="99.2" width="28.8" height="34.3" fill="#FCF5F2" stroke="none"/>
<rect x="1300.1" y="133.5" width="28.8" height="34.3" fill="#FCF5F2" stroke="none"/>
<rect x="1300.1" y="167.8" width="28.8" height="34.3" fill="#FCF5F2" stroke="none"/>
<rect x="1300.1" y="202.1" width="28.8" height="34.3" fill="#FCF4F1" stroke="none"/>
<rect x="1300.1" y="236.4" width="28.8" height="34.3" fill="#FCF4F1" stroke="none"/>
<rect x="1300.1" y="270.6" width="28.8" height="34.3" fill="#FCF4F1" stroke="none"/>
<rect x="1300.1" y="304.9" width="28.8" height="34.3" fill="#FBF2EE" stroke="none"/>
<rect x="1386.4" y="99.2" width="28.8" height="34.3" fill="#FEFDFC" stroke="none"/>
<rect x="1386.4" y="133.5" width="28.8" height="34.3" fill="#FEFDFD" stroke="none"/>
<rect x="1386.4" y="167.8" width="28.8" height="34.3" fill="#FEFEFD" stroke="none"/>
<rect x="1386.4" y="202.1" width="28.8" height="34.3" fill="#FFFEFE" stroke="none"/>
<rect x="1386.4" y="236.4" width="28.8" height="34.3" fill="#FFFFFE" stroke="none"/>
<rect x="1443.9" y="304.9" width="28.8" height="34.3" fill="#FDFDFE" stroke="none"/>
<rect x="1558.9" y="99.2" width="28.8" height="34.3" fill="#F8F8FC" stroke="none"/>
<rect x="1558.9" y="133.5" width="28.8" height="34.3" fill="#F8F8FC" stroke="none"/>
<rect x="1558.9" y="167.8" width="28.8" height="34.3" fill="#F8F8FC" stroke="none"/>
<rect x="1558.9" y="202.1" width="28.8" height="34.3" fill="#F7F7FC" stroke="none"/>
<rect x="1558.9" y="236.4" width="28.8" height="34.3" fill="#F7F7FC" stroke="none"/>
<rect x="1558.9" y="270.6" width="28.8" height="34.3" fill="#F7F7FC" stroke="none"/>
<rect x="1558.9" y="304.9" width="28.8" height="34.3" fill="#F5F5FB" stroke="none"/>
<rect x="1587.7" y="99.2" width="28.8" height="34.3" fill="#F7F7FC" stroke="none"/>
<rect x="1587.7" y="133.5" width="28.8" height="34.3" fill="#F7F7FC" stroke="none"/>
<rect x="1587.7" y="167.8" width="28.8" height="34.3" fill="#F7F7FC" stroke="none"/>
<rect x="1587.7" y="202.1" width="28.8" height="34.3" fill="#F7F7FC" stroke="none"/>
<rect x="1587.7" y="236.4" width="28.8" height="34.3" fill="#F7F7FC" stroke="none"/>
<rect x="1587.7" y="270.6" width="28.8" height="34.3" fill="#F7F7FC" stroke="none"/>
<rect x="1587.7" y="304.9" width="28.8" height="34.3" fill="#F6F6FB" stroke="none"/>
<rect x="1616.5" y="99.2" width="28.8" height="34.3" fill="#FBFBFD" stroke="none"/>
<rect x="1616.5" y="133.5" width="28.8" height="34.3" fill="#FCFCFD" stroke="none"/>
<rect x="1616.5" y="167.8" width="28.8" height="34.3" fill="#FCFCFE" stroke="none"/>
<rect x="1616.5" y="202.1" width="28.8" height="34.3" fill="#FDFDFE" stroke="none"/>
<rect x="1616.5" y="236.4" width="28.8" height="34.3" fill="#FDFDFF" stroke="none"/>
<rect x="1616.5" y="270.6" width="28.8" height="34.3" fill="#FEFEFF" stroke="none"/>
<rect x="1674.0" y="99.2" width="28.8" height="34.3" fill="#F8F8FC" stroke="none"/>
<rect x="1674.0" y="133.5" width="28.8" height="34.3" fill="#F8F8FC" stroke="none"/>
<rect x="1674.0" y="167.8" width="28.8" height="34.3" fill="#F8F8FC" stroke="none"/>
<rect x="1674.0" y="202.1" width="28.8" height="34.3" fill="#F9F9FD" stroke="none"/>
<rect x="1674.0" y="236.4" width="28.8" height="34.3" fill="#F9F9FD" stroke="none"/>
<rect x="1674.0" y="270.6" width="28.8" height="34.3" fill="#F9F9FD" stroke="none"/>
<rect x="1674.0" y="304.9" width="28.8" height="34.3" fill="#FCFCFE" stroke="none"/>
<rect x="1702.7" y="99.2" width="28.8" height="34.3" fill="#F4F4FA" stroke="none"/>
<rect x="1702.7" y="133.5" width="28.8" height="34.3" fill="#F4F4FA" stroke="none"/>
<rect x="1702.7" y="167.8" width="28.8" height="34.3" fill="#F4F4FA" stroke="none"/>
<rect x="1702.7" y="202.1" width="28.8" height="34.3" fill="#F5F5FB" stroke="none"/>
<rect x="1702.7" y="236.4" width="28.8" height="34.3" fill="#F5F5FB" stroke="none"/>
<rect x="1702.7" y="270.6" width="28.8" height="34.3" fill="#F5F5FB" stroke="none"/>
<rect x="1702.7" y="304.9" width="28.8" height="34.3" fill="#F5F5FB" stroke="none"/>
<rect x="1731.5" y="99.2" width="28.8" height="34.3" fill="#F6F6FB" stroke="none"/>
<rect x="1731.5" y="133.5" width="28.8" height="34.3" fill="#F6F6FB" stroke="none"/>
<rect x="1731.5" y="167.8" width="28.8" height="34.3" fill="#F6F6FB" stroke="none"/>
<rect x="1731.5" y="202.1" width="28.8" height="34.3" fill="#F6F6FB" stroke="none"/>
<rect x="1731.5" y="236.4" width="28.8" height="34.3" fill="#F6F6FB" stroke="none"/>
<rect x="1731.5" y="270.6" width="28.8" height="34.3" fill="#F6F6FB" stroke="none"/>
<rect x="1731.5" y="304.9" width="28.8" height="34.3" fill="#F5F5FB" stroke="none"/>
<path d="M1012.50 98.30V340.13M1041.26 98.30V340.13M1070.02 98.30V340.13M1098.78 98.30V340.13M1127.54 98.30V340.13M1156.30 98.30V340.13M1185.06 98.30V340.13M1213.82 98.30V340.13M1242.58 98.30V340.13M1271.34 98.30V340.13M1300.10 98.30V340.13M1328.86 98.30V340.13M1357.62 98.30V340.13M1386.38 98.30V340.13M1415.14 98.30V340.13M1443.90 98.30V340.13M1472.66 98.30V340.13M1501.42 98.30V340.13M1530.18 98.30V340.13M1558.94 98.30V340.13M1587.70 98.30V340.13M1616.46 98.30V340.13M1645.22 98.30V340.13M1673.98 98.30V340.13M1702.74 98.30V340.13M1731.50 98.30V340.13M1760.26 98.30V340.13M1011.60 99.20H1761.16M1011.60 133.49H1761.16M1011.60 167.78H1761.16M1011.60 202.07H1761.16M1011.60 236.36H1761.16M1011.60 270.65H1761.16M1011.60 304.94H1761.16M1011.60 339.23H1761.16" stroke-width="2.1" fill="none"/>
<path d="M1009.50 342.63H1763.26M1026.88 342.63V350.63M1055.64 342.63V350.63M1084.40 342.63V350.63M1113.16 342.63V350.63M1141.92 342.63V350.63M1170.68 342.63V350.63M1199.44 342.63V350.63M1228.20 342.63V350.63M1256.96 342.63V350.63M1285.72 342.63V350.63M1314.48 342.63V350.63M1343.24 342.63V350.63M1372.00 342.63V350.63M1400.76 342.63V350.63M1429.52 342.63V350.63M1458.28 342.63V350.63M1487.04 342.63V350.63M1515.80 342.63V350.63M1544.56 342.63V350.63M1573.32 342.63V350.63M1602.08 342.63V350.63M1630.84 342.63V350.63M1659.60 342.63V350.63M1688.36 342.63V350.63M1717.12 342.63V350.63M1745.88 342.63V350.63" stroke-width="1.9" fill="none"/>
<g class="st" font-size="21.5" text-anchor="middle">
<text transform="translate(1027.4 127.9) scale(1.04 1)">*</text>
<text transform="translate(1056.1 127.9) scale(1.04 1)">*</text>
<text transform="translate(1087.5 127.9) scale(1.04 1)">*</text>
<text transform="translate(1113.7 127.9) scale(1.04 1)">*</text>
<text transform="translate(1142.4 127.9) scale(1.04 1)">*</text>
<text transform="translate(1173.4 127.9) scale(1.04 1)">*</text>
<text transform="translate(1199.9 127.9) scale(1.04 1)">*</text>
<text transform="translate(1228.7 127.9) scale(1.04 1)">*</text>
<text transform="translate(1257.5 127.9) scale(1.04 1)">*</text>
<text transform="translate(1315.0 127.9) scale(1.04 1)">*</text>
<text transform="translate(1401.3 127.9) scale(1.04 1)">*</text>
<text transform="translate(1573.8 127.9) scale(1.04 1)">*</text>
<text transform="translate(1602.6 127.9) scale(1.04 1)">*</text>
<text transform="translate(1631.3 127.9) scale(1.04 1)">*</text>
<text transform="translate(1688.9 127.9) scale(1.04 1)">*</text>
<text transform="translate(1717.6 127.9) scale(1.04 1)">*</text>
<text transform="translate(1746.4 127.9) scale(1.04 1)">*</text>
<text transform="translate(1027.4 162.2) scale(1.04 1)">*</text>
<text transform="translate(1056.1 162.2) scale(1.04 1)">*</text>
<text transform="translate(1087.5 162.2) scale(1.04 1)">*</text>
<text transform="translate(1113.7 162.2) scale(1.04 1)">*</text>
<text transform="translate(1142.4 162.2) scale(1.04 1)">*</text>
<text transform="translate(1173.4 162.2) scale(1.04 1)">*</text>
<text transform="translate(1199.9 162.2) scale(1.04 1)">*</text>
<text transform="translate(1228.7 162.2) scale(1.04 1)">*</text>
<text transform="translate(1257.5 162.2) scale(1.04 1)">*</text>
<text transform="translate(1315.0 162.2) scale(1.04 1)">*</text>
<text transform="translate(1401.3 162.2) scale(1.04 1)">*</text>
<text transform="translate(1573.8 162.2) scale(1.04 1)">*</text>
<text transform="translate(1602.6 162.2) scale(1.04 1)">*</text>
<text transform="translate(1688.9 162.2) scale(1.04 1)">*</text>
<text transform="translate(1717.6 162.2) scale(1.04 1)">*</text>
<text transform="translate(1746.4 162.2) scale(1.04 1)">*</text>
<text transform="translate(1027.4 196.5) scale(1.04 1)">*</text>
<text transform="translate(1056.1 196.5) scale(1.04 1)">*</text>
<text transform="translate(1087.5 196.5) scale(1.04 1)">*</text>
<text transform="translate(1113.7 196.5) scale(1.04 1)">*</text>
<text transform="translate(1142.4 196.5) scale(1.04 1)">*</text>
<text transform="translate(1173.4 196.5) scale(1.04 1)">*</text>
<text transform="translate(1199.9 196.5) scale(1.04 1)">*</text>
<text transform="translate(1228.7 196.5) scale(1.04 1)">*</text>
<text transform="translate(1257.5 196.5) scale(1.04 1)">*</text>
<text transform="translate(1315.0 196.5) scale(1.04 1)">*</text>
<text transform="translate(1401.3 196.5) scale(1.04 1)">*</text>
<text transform="translate(1573.8 196.5) scale(1.04 1)">*</text>
<text transform="translate(1602.6 196.5) scale(1.04 1)">*</text>
<text transform="translate(1688.9 196.5) scale(1.04 1)">*</text>
<text transform="translate(1717.6 196.5) scale(1.04 1)">*</text>
<text transform="translate(1746.4 196.5) scale(1.04 1)">*</text>
<text transform="translate(1027.4 230.8) scale(1.04 1)">*</text>
<text transform="translate(1056.1 230.8) scale(1.04 1)">*</text>
<text transform="translate(1087.5 230.8) scale(1.04 1)">*</text>
<text transform="translate(1113.7 230.8) scale(1.04 1)">*</text>
<text transform="translate(1142.4 230.8) scale(1.04 1)">*</text>
<text transform="translate(1173.4 230.8) scale(1.04 1)">*</text>
<text transform="translate(1199.9 230.8) scale(1.04 1)">*</text>
<text transform="translate(1228.7 230.8) scale(1.04 1)">*</text>
<text transform="translate(1257.5 230.8) scale(1.04 1)">*</text>
<text transform="translate(1315.0 230.8) scale(1.04 1)">*</text>
<text transform="translate(1401.3 230.8) scale(1.04 1)">*</text>
<text transform="translate(1573.8 230.8) scale(1.04 1)">*</text>
<text transform="translate(1602.6 230.8) scale(1.04 1)">*</text>
<text transform="translate(1688.9 230.8) scale(1.04 1)">*</text>
<text transform="translate(1717.6 230.8) scale(1.04 1)">*</text>
<text transform="translate(1746.4 230.8) scale(1.04 1)">*</text>
<text transform="translate(1027.4 265.1) scale(1.04 1)">*</text>
<text transform="translate(1056.1 265.1) scale(1.04 1)">*</text>
<text transform="translate(1087.5 265.1) scale(1.04 1)">*</text>
<text transform="translate(1113.7 265.1) scale(1.04 1)">*</text>
<text transform="translate(1142.4 265.1) scale(1.04 1)">*</text>
<text transform="translate(1173.4 265.1) scale(1.04 1)">*</text>
<text transform="translate(1199.9 265.1) scale(1.04 1)">*</text>
<text transform="translate(1228.7 265.1) scale(1.04 1)">*</text>
<text transform="translate(1257.5 265.1) scale(1.04 1)">*</text>
<text transform="translate(1315.0 265.1) scale(1.04 1)">*</text>
<text transform="translate(1573.8 265.1) scale(1.04 1)">*</text>
<text transform="translate(1602.6 265.1) scale(1.04 1)">*</text>
<text transform="translate(1688.9 265.1) scale(1.04 1)">*</text>
<text transform="translate(1717.6 265.1) scale(1.04 1)">*</text>
<text transform="translate(1746.4 265.1) scale(1.04 1)">*</text>
<text transform="translate(1027.4 299.4) scale(1.04 1)">*</text>
<text transform="translate(1056.1 299.4) scale(1.04 1)">*</text>
<text transform="translate(1087.5 299.4) scale(1.04 1)">*</text>
<text transform="translate(1113.7 299.4) scale(1.04 1)">*</text>
<text transform="translate(1142.4 299.4) scale(1.04 1)">*</text>
<text transform="translate(1173.4 299.4) scale(1.04 1)">*</text>
<text transform="translate(1199.9 299.4) scale(1.04 1)">*</text>
<text transform="translate(1228.7 299.4) scale(1.04 1)">*</text>
<text transform="translate(1257.5 299.4) scale(1.04 1)">*</text>
<text transform="translate(1315.0 299.4) scale(1.04 1)">*</text>
<text transform="translate(1573.8 299.4) scale(1.04 1)">*</text>
<text transform="translate(1602.6 299.4) scale(1.04 1)">*</text>
<text transform="translate(1688.9 299.4) scale(1.04 1)">*</text>
<text transform="translate(1717.6 299.4) scale(1.04 1)">*</text>
<text transform="translate(1746.4 299.4) scale(1.04 1)">*</text>
<text transform="translate(1027.4 333.7) scale(1.04 1)">*</text>
<text transform="translate(1056.1 333.7) scale(1.04 1)">*</text>
<text transform="translate(1083.1 333.7) scale(1.04 1)">*</text>
<text transform="translate(1113.7 333.7) scale(1.04 1)">*</text>
<text transform="translate(1142.4 333.7) scale(1.04 1)">*</text>
<text transform="translate(1168.0 333.7) scale(1.04 1)">*</text>
<text transform="translate(1199.9 333.7) scale(1.04 1)">*</text>
<text transform="translate(1228.7 333.7) scale(1.04 1)">*</text>
<text transform="translate(1257.5 333.7) scale(1.04 1)">*</text>
<text transform="translate(1315.0 333.7) scale(1.04 1)">*</text>
<text transform="translate(1458.8 333.7) scale(1.04 1)">*</text>
<text transform="translate(1573.8 333.7) scale(1.04 1)">*</text>
<text transform="translate(1602.6 333.7) scale(1.04 1)">*</text>
<text transform="translate(1717.6 333.7) scale(1.04 1)">*</text>
<text transform="translate(1746.4 333.7) scale(1.04 1)">*</text>
</g>
<g font-size="28.6" font-style="italic" text-anchor="end">
<text transform="translate(1038.9 358.2) rotate(-90) scale(0.96 1)">Pten</text>
<text transform="translate(1067.6 358.2) rotate(-90) scale(0.96 1)">Nf1</text>
<text transform="translate(1096.4 358.2) rotate(-90) scale(0.96 1)">Lkb1</text>
<text transform="translate(1125.2 358.2) rotate(-90) scale(0.96 1)">Stag2</text>
<text transform="translate(1153.9 358.2) rotate(-90) scale(0.96 1)">p53</text>
<text transform="translate(1182.7 358.2) rotate(-90) scale(0.96 1)">Cdkn2c</text>
<text transform="translate(1211.4 358.2) rotate(-90) scale(0.96 1)">Setd2</text>
<text transform="translate(1240.2 358.2) rotate(-90) scale(0.96 1)">Cmtr2</text>
<text transform="translate(1269.0 358.2) rotate(-90) scale(0.96 1)">Rbm10</text>
<text transform="translate(1297.7 358.2) rotate(-90) scale(0.96 1)">Rb1</text>
<text transform="translate(1326.5 358.2) rotate(-90) scale(0.96 1)">Rnf43</text>
<text transform="translate(1355.2 358.2) rotate(-90) scale(0.96 1)">Dnmt3a</text>
<text transform="translate(1384.0 358.2) rotate(-90) scale(0.96 1)">Cdkn2a</text>
<text transform="translate(1412.8 358.2) rotate(-90) scale(0.96 1)">Keap1</text>
<text transform="translate(1441.5 358.2) rotate(-90) scale(0.96 1)">Nf2</text>
<text transform="translate(1470.3 358.2) rotate(-90) scale(0.96 1)">Kdm6a</text>
<text transform="translate(1499.0 358.2) rotate(-90) scale(0.96 1)">Inert</text>
<text transform="translate(1527.8 358.2) rotate(-90) scale(0.96 1)">Kmt2c</text>
<text transform="translate(1556.6 358.2) rotate(-90) scale(0.96 1)">Fbxw7</text>
<text transform="translate(1585.3 358.2) rotate(-90) scale(0.96 1)">Atm</text>
<text transform="translate(1614.1 358.2) rotate(-90) scale(0.96 1)">Brca2</text>
<text transform="translate(1642.8 358.2) rotate(-90) scale(0.96 1)">Arid1b</text>
<text transform="translate(1671.6 358.2) rotate(-90) scale(0.96 1)">Smarca4</text>
<text transform="translate(1700.4 358.2) rotate(-90) scale(0.96 1)">Arid1a</text>
<text transform="translate(1729.1 358.2) rotate(-90) scale(0.96 1)">Apc</text>
<text transform="translate(1757.9 358.2) rotate(-90) scale(0.96 1)">Pole</text>
</g>
<rect x="242.4" y="1116.1" width="28.8" height="34.2" fill="#EB6C55" stroke="none"/>
<rect x="242.4" y="1150.3" width="28.8" height="34.2" fill="#EB634E" stroke="none"/>
<rect x="242.4" y="1184.5" width="28.8" height="34.2" fill="#EB5A46" stroke="none"/>
<rect x="242.4" y="1218.7" width="28.8" height="34.2" fill="#EC513F" stroke="none"/>
<rect x="242.4" y="1252.9" width="28.8" height="34.2" fill="#EC4837" stroke="none"/>
<rect x="242.4" y="1287.1" width="28.8" height="34.2" fill="#EC3F30" stroke="none"/>
<rect x="242.4" y="1321.3" width="28.8" height="34.2" fill="#EE2A25" stroke="none"/>
<rect x="271.2" y="1116.1" width="28.8" height="34.2" fill="#F2C0B2" stroke="none"/>
<rect x="271.2" y="1150.3" width="28.8" height="34.2" fill="#F1B6A7" stroke="none"/>
<rect x="271.2" y="1184.5" width="28.8" height="34.2" fill="#F0AC9C" stroke="none"/>
<rect x="271.2" y="1218.7" width="28.8" height="34.2" fill="#EEA290" stroke="none"/>
<rect x="271.2" y="1252.9" width="28.8" height="34.2" fill="#ED9885" stroke="none"/>
<rect x="271.2" y="1287.1" width="28.8" height="34.2" fill="#EC8E7A" stroke="none"/>
<rect x="271.2" y="1321.3" width="28.8" height="34.2" fill="#EA7661" stroke="none"/>
<rect x="299.9" y="1116.1" width="28.8" height="34.2" fill="#F0BCAD" stroke="none"/>
<rect x="299.9" y="1150.3" width="28.8" height="34.2" fill="#F0BAAA" stroke="none"/>
<rect x="299.9" y="1184.5" width="28.8" height="34.2" fill="#F0B8A8" stroke="none"/>
<rect x="299.9" y="1218.7" width="28.8" height="34.2" fill="#EFB5A5" stroke="none"/>
<rect x="299.9" y="1252.9" width="28.8" height="34.2" fill="#EFB3A3" stroke="none"/>
<rect x="299.9" y="1287.1" width="28.8" height="34.2" fill="#EFB1A0" stroke="none"/>
<rect x="299.9" y="1321.3" width="28.8" height="34.2" fill="#EFAD9B" stroke="none"/>
<rect x="328.7" y="1116.1" width="28.8" height="34.2" fill="#F5DAD0" stroke="none"/>
<rect x="328.7" y="1150.3" width="28.8" height="34.2" fill="#F5D7CC" stroke="none"/>
<rect x="328.7" y="1184.5" width="28.8" height="34.2" fill="#F4D4C9" stroke="none"/>
<rect x="328.7" y="1218.7" width="28.8" height="34.2" fill="#F4D0C5" stroke="none"/>
<rect x="328.7" y="1252.9" width="28.8" height="34.2" fill="#F3CDC2" stroke="none"/>
<rect x="328.7" y="1287.1" width="28.8" height="34.2" fill="#F3CABE" stroke="none"/>
<rect x="328.7" y="1321.3" width="28.8" height="34.2" fill="#F1BFB1" stroke="none"/>
<rect x="357.4" y="1116.1" width="28.8" height="34.2" fill="#F5DCD3" stroke="none"/>
<rect x="357.4" y="1150.3" width="28.8" height="34.2" fill="#F5D9CF" stroke="none"/>
<rect x="357.4" y="1184.5" width="28.8" height="34.2" fill="#F4D6CB" stroke="none"/>
<rect x="357.4" y="1218.7" width="28.8" height="34.2" fill="#F4D2C8" stroke="none"/>
<rect x="357.4" y="1252.9" width="28.8" height="34.2" fill="#F3CFC4" stroke="none"/>
<rect x="357.4" y="1287.1" width="28.8" height="34.2" fill="#F3CCC0" stroke="none"/>
<rect x="357.4" y="1321.3" width="28.8" height="34.2" fill="#F1C2B4" stroke="none"/>
<rect x="386.2" y="1116.1" width="28.8" height="34.2" fill="#FAEFEA" stroke="none"/>
<rect x="386.2" y="1150.3" width="28.8" height="34.2" fill="#FAEDE8" stroke="none"/>
<rect x="386.2" y="1184.5" width="28.8" height="34.2" fill="#F9EBE6" stroke="none"/>
<rect x="386.2" y="1218.7" width="28.8" height="34.2" fill="#F9EAE3" stroke="none"/>
<rect x="386.2" y="1252.9" width="28.8" height="34.2" fill="#F8E8E1" stroke="none"/>
<rect x="386.2" y="1287.1" width="28.8" height="34.2" fill="#F8E6DF" stroke="none"/>
<rect x="386.2" y="1321.3" width="28.8" height="34.2" fill="#F6DDD4" stroke="none"/>
<rect x="415.0" y="1116.1" width="28.8" height="34.2" fill="#F9EBE5" stroke="none"/>
<rect x="415.0" y="1150.3" width="28.8" height="34.2" fill="#F9EAE3" stroke="none"/>
<rect x="415.0" y="1184.5" width="28.8" height="34.2" fill="#F9E8E2" stroke="none"/>
<rect x="415.0" y="1218.7" width="28.8" height="34.2" fill="#F8E7E0" stroke="none"/>
<rect x="415.0" y="1252.9" width="28.8" height="34.2" fill="#F8E5DF" stroke="none"/>
<rect x="415.0" y="1287.1" width="28.8" height="34.2" fill="#F8E4DD" stroke="none"/>
<rect x="415.0" y="1321.3" width="28.8" height="34.2" fill="#F6DDD4" stroke="none"/>
<rect x="443.7" y="1116.1" width="28.8" height="34.2" fill="#F9EAE4" stroke="none"/>
<rect x="443.7" y="1150.3" width="28.8" height="34.2" fill="#F9E9E3" stroke="none"/>
<rect x="443.7" y="1184.5" width="28.8" height="34.2" fill="#F9E8E2" stroke="none"/>
<rect x="443.7" y="1218.7" width="28.8" height="34.2" fill="#F8E8E1" stroke="none"/>
<rect x="443.7" y="1252.9" width="28.8" height="34.2" fill="#F8E7E0" stroke="none"/>
<rect x="443.7" y="1287.1" width="28.8" height="34.2" fill="#F8E6DF" stroke="none"/>
<rect x="443.7" y="1321.3" width="28.8" height="34.2" fill="#F7E1D9" stroke="none"/>
<rect x="472.5" y="1116.1" width="28.8" height="34.2" fill="#F7E4DD" stroke="none"/>
<rect x="472.5" y="1150.3" width="28.8" height="34.2" fill="#F7E4DD" stroke="none"/>
<rect x="472.5" y="1184.5" width="28.8" height="34.2" fill="#F7E4DD" stroke="none"/>
<rect x="472.5" y="1218.7" width="28.8" height="34.2" fill="#F7E4DD" stroke="none"/>
<rect x="472.5" y="1252.9" width="28.8" height="34.2" fill="#F7E4DD" stroke="none"/>
<rect x="472.5" y="1287.1" width="28.8" height="34.2" fill="#F7E4DD" stroke="none"/>
<rect x="472.5" y="1321.3" width="28.8" height="34.2" fill="#F7E3DC" stroke="none"/>
<rect x="501.2" y="1116.1" width="28.8" height="34.2" fill="#FCF5F2" stroke="none"/>
<rect x="501.2" y="1150.3" width="28.8" height="34.2" fill="#FCF4F1" stroke="none"/>
<rect x="501.2" y="1184.5" width="28.8" height="34.2" fill="#FCF3F0" stroke="none"/>
<rect x="501.2" y="1218.7" width="28.8" height="34.2" fill="#FBF2EE" stroke="none"/>
<rect x="501.2" y="1252.9" width="28.8" height="34.2" fill="#FBF1ED" stroke="none"/>
<rect x="501.2" y="1287.1" width="28.8" height="34.2" fill="#FBF0EC" stroke="none"/>
<rect x="501.2" y="1321.3" width="28.8" height="34.2" fill="#F9ECE7" stroke="none"/>
<rect x="530.0" y="1116.1" width="28.8" height="34.2" fill="#FCF6F3" stroke="none"/>
<rect x="530.0" y="1150.3" width="28.8" height="34.2" fill="#FCF5F2" stroke="none"/>
<rect x="530.0" y="1184.5" width="28.8" height="34.2" fill="#FCF4F1" stroke="none"/>
<rect x="530.0" y="1218.7" width="28.8" height="34.2" fill="#FBF4F0" stroke="none"/>
<rect x="530.0" y="1252.9" width="28.8" height="34.2" fill="#FBF3EF" stroke="none"/>
<rect x="530.0" y="1287.1" width="28.8" height="34.2" fill="#FBF2EE" stroke="none"/>
<rect x="530.0" y="1321.3" width="28.8" height="34.2" fill="#FAEEE9" stroke="none"/>
<rect x="558.8" y="1116.1" width="28.8" height="34.2" fill="#FBF7F6" stroke="none"/>
<rect x="558.8" y="1150.3" width="28.8" height="34.2" fill="#FBF6F5" stroke="none"/>
<rect x="558.8" y="1184.5" width="28.8" height="34.2" fill="#FBF5F4" stroke="none"/>
<rect x="558.8" y="1218.7" width="28.8" height="34.2" fill="#FBF5F2" stroke="none"/>
<rect x="558.8" y="1252.9" width="28.8" height="34.2" fill="#FBF4F1" stroke="none"/>
<rect x="558.8" y="1287.1" width="28.8" height="34.2" fill="#FBF3F0" stroke="none"/>
<rect x="558.8" y="1321.3" width="28.8" height="34.2" fill="#FAF0EC" stroke="none"/>
<rect x="587.5" y="1116.1" width="28.8" height="34.2" fill="#FDFAF8" stroke="none"/>
<rect x="587.5" y="1150.3" width="28.8" height="34.2" fill="#FDFAF8" stroke="none"/>
<rect x="587.5" y="1184.5" width="28.8" height="34.2" fill="#FDFAF9" stroke="none"/>
<rect x="587.5" y="1218.7" width="28.8" height="34.2" fill="#FEFBF9" stroke="none"/>
<rect x="587.5" y="1252.9" width="28.8" height="34.2" fill="#FEFBFA" stroke="none"/>
<rect x="587.5" y="1287.1" width="28.8" height="34.2" fill="#FEFBFA" stroke="none"/>
<rect x="587.5" y="1321.3" width="28.8" height="34.2" fill="#FEFBFA" stroke="none"/>
<rect x="616.3" y="1116.1" width="28.8" height="34.2" fill="#FFFEFE" stroke="none"/>
<rect x="616.3" y="1150.3" width="28.8" height="34.2" fill="#FFFDFD" stroke="none"/>
<rect x="616.3" y="1184.5" width="28.8" height="34.2" fill="#FEFCFC" stroke="none"/>
<rect x="616.3" y="1218.7" width="28.8" height="34.2" fill="#FEFCFA" stroke="none"/>
<rect x="616.3" y="1252.9" width="28.8" height="34.2" fill="#FDFBF9" stroke="none"/>
<rect x="616.3" y="1287.1" width="28.8" height="34.2" fill="#FDFAF8" stroke="none"/>
<rect x="616.3" y="1321.3" width="28.8" height="34.2" fill="#FCF4F2" stroke="none"/>
<rect x="645.0" y="1116.1" width="28.8" height="34.2" fill="#FDFAF8" stroke="none"/>
<rect x="645.0" y="1150.3" width="28.8" height="34.2" fill="#FDFAF9" stroke="none"/>
<rect x="645.0" y="1184.5" width="28.8" height="34.2" fill="#FDFBF9" stroke="none"/>
<rect x="645.0" y="1218.7" width="28.8" height="34.2" fill="#FEFBFA" stroke="none"/>
<rect x="645.0" y="1252.9" width="28.8" height="34.2" fill="#FEFCFA" stroke="none"/>
<rect x="645.0" y="1287.1" width="28.8" height="34.2" fill="#FEFCFB" stroke="none"/>
<rect x="645.0" y="1321.3" width="28.8" height="34.2" fill="#FDFCFD" stroke="none"/>
<rect x="673.8" y="1116.1" width="28.8" height="34.2" fill="#FEFCFB" stroke="none"/>
<rect x="673.8" y="1150.3" width="28.8" height="34.2" fill="#FEFBF9" stroke="none"/>
<rect x="673.8" y="1184.5" width="28.8" height="34.2" fill="#FDFAF8" stroke="none"/>
<rect x="673.8" y="1218.7" width="28.8" height="34.2" fill="#FDF8F6" stroke="none"/>
<rect x="673.8" y="1252.9" width="28.8" height="34.2" fill="#FCF7F5" stroke="none"/>
<rect x="673.8" y="1287.1" width="28.8" height="34.2" fill="#FCF6F3" stroke="none"/>
<rect x="673.8" y="1321.3" width="28.8" height="34.2" fill="#FAF0EC" stroke="none"/>
<rect x="731.3" y="1321.3" width="28.8" height="34.2" fill="#FEFCFA" stroke="none"/>
<rect x="760.1" y="1321.3" width="28.8" height="34.2" fill="#FEFCFA" stroke="none"/>
<rect x="788.8" y="1116.1" width="28.8" height="34.2" fill="#FDFDFE" stroke="none"/>
<rect x="788.8" y="1150.3" width="28.8" height="34.2" fill="#FDFDFE" stroke="none"/>
<rect x="788.8" y="1184.5" width="28.8" height="34.2" fill="#FDFDFE" stroke="none"/>
<rect x="788.8" y="1218.7" width="28.8" height="34.2" fill="#FDFDFE" stroke="none"/>
<rect x="788.8" y="1252.9" width="28.8" height="34.2" fill="#FDFDFE" stroke="none"/>
<rect x="788.8" y="1287.1" width="28.8" height="34.2" fill="#FDFDFE" stroke="none"/>
<rect x="817.6" y="1116.1" width="28.8" height="34.2" fill="#F8F8FC" stroke="none"/>
<rect x="817.6" y="1150.3" width="28.8" height="34.2" fill="#F8F8FC" stroke="none"/>
<rect x="817.6" y="1184.5" width="28.8" height="34.2" fill="#F8F8FC" stroke="none"/>
<rect x="817.6" y="1218.7" width="28.8" height="34.2" fill="#F8F8FC" stroke="none"/>
<rect x="817.6" y="1252.9" width="28.8" height="34.2" fill="#F8F8FC" stroke="none"/>
<rect x="817.6" y="1287.1" width="28.8" height="34.2" fill="#F8F8FC" stroke="none"/>
<rect x="817.6" y="1321.3" width="28.8" height="34.2" fill="#F9F9FD" stroke="none"/>
<rect x="846.4" y="1116.1" width="28.8" height="34.2" fill="#F4F4FA" stroke="none"/>
<rect x="846.4" y="1150.3" width="28.8" height="34.2" fill="#F4F4FA" stroke="none"/>
<rect x="846.4" y="1184.5" width="28.8" height="34.2" fill="#F4F4FA" stroke="none"/>
<rect x="846.4" y="1218.7" width="28.8" height="34.2" fill="#F5F5FB" stroke="none"/>
<rect x="846.4" y="1252.9" width="28.8" height="34.2" fill="#F5F5FB" stroke="none"/>
<rect x="846.4" y="1287.1" width="28.8" height="34.2" fill="#F5F5FB" stroke="none"/>
<rect x="846.4" y="1321.3" width="28.8" height="34.2" fill="#FAFAFD" stroke="none"/>
<rect x="875.1" y="1116.1" width="28.8" height="34.2" fill="#F4F4FA" stroke="none"/>
<rect x="875.1" y="1150.3" width="28.8" height="34.2" fill="#F4F4FA" stroke="none"/>
<rect x="875.1" y="1184.5" width="28.8" height="34.2" fill="#F5F5FA" stroke="none"/>
<rect x="875.1" y="1218.7" width="28.8" height="34.2" fill="#F5F5FB" stroke="none"/>
<rect x="875.1" y="1252.9" width="28.8" height="34.2" fill="#F6F6FB" stroke="none"/>
<rect x="875.1" y="1287.1" width="28.8" height="34.2" fill="#F6F6FB" stroke="none"/>
<rect x="875.1" y="1321.3" width="28.8" height="34.2" fill="#FEFEFE" stroke="none"/>
<rect x="903.9" y="1116.1" width="28.8" height="34.2" fill="#F6F6FB" stroke="none"/>
<rect x="903.9" y="1150.3" width="28.8" height="34.2" fill="#F6F6FB" stroke="none"/>
<rect x="903.9" y="1184.5" width="28.8" height="34.2" fill="#F7F7FB" stroke="none"/>
<rect x="903.9" y="1218.7" width="28.8" height="34.2" fill="#F7F7FC" stroke="none"/>
<rect x="903.9" y="1252.9" width="28.8" height="34.2" fill="#F8F8FC" stroke="none"/>
<rect x="903.9" y="1287.1" width="28.8" height="34.2" fill="#F8F8FC" stroke="none"/>
<rect x="903.9" y="1321.3" width="28.8" height="34.2" fill="#F8F8FC" stroke="none"/>
<rect x="932.6" y="1116.1" width="28.8" height="34.2" fill="#F0F0F8" stroke="none"/>
<rect x="932.6" y="1150.3" width="28.8" height="34.2" fill="#F0F0F8" stroke="none"/>
<rect x="932.6" y="1184.5" width="28.8" height="34.2" fill="#F0F0F8" stroke="none"/>
<rect x="932.6" y="1218.7" width="28.8" height="34.2" fill="#EFEFF7" stroke="none"/>
<rect x="932.6" y="1252.9" width="28.8" height="34.2" fill="#EFEFF7" stroke="none"/>
<rect x="932.6" y="1287.1" width="28.8" height="34.2" fill="#EFEFF7" stroke="none"/>
<rect x="932.6" y="1321.3" width="28.8" height="34.2" fill="#EFEFF7" stroke="none"/>
<rect x="961.4" y="1116.1" width="28.8" height="34.2" fill="#E6E6F2" stroke="none"/>
<rect x="961.4" y="1150.3" width="28.8" height="34.2" fill="#E6E6F2" stroke="none"/>
<rect x="961.4" y="1184.5" width="28.8" height="34.2" fill="#E5E5F2" stroke="none"/>
<rect x="961.4" y="1218.7" width="28.8" height="34.2" fill="#E5E5F1" stroke="none"/>
<rect x="961.4" y="1252.9" width="28.8" height="34.2" fill="#E4E4F1" stroke="none"/>
<rect x="961.4" y="1287.1" width="28.8" height="34.2" fill="#E4E4F1" stroke="none"/>
<rect x="961.4" y="1321.3" width="28.8" height="34.2" fill="#E2E2F0" stroke="none"/>
<path d="M242.40 1115.20V1356.40M271.16 1115.20V1356.40M299.92 1115.20V1356.40M328.68 1115.20V1356.40M357.44 1115.20V1356.40M386.20 1115.20V1356.40M414.96 1115.20V1356.40M443.72 1115.20V1356.40M472.48 1115.20V1356.40M501.24 1115.20V1356.40M530.00 1115.20V1356.40M558.76 1115.20V1356.40M587.52 1115.20V1356.40M616.28 1115.20V1356.40M645.04 1115.20V1356.40M673.80 1115.20V1356.40M702.56 1115.20V1356.40M731.32 1115.20V1356.40M760.08 1115.20V1356.40M788.84 1115.20V1356.40M817.60 1115.20V1356.40M846.36 1115.20V1356.40M875.12 1115.20V1356.40M903.88 1115.20V1356.40M932.64 1115.20V1356.40M961.40 1115.20V1356.40M990.16 1115.20V1356.40M241.50 1116.10H991.06M241.50 1150.30H991.06M241.50 1184.50H991.06M241.50 1218.70H991.06M241.50 1252.90H991.06M241.50 1287.10H991.06M241.50 1321.30H991.06M241.50 1355.50H991.06" stroke-width="2.1" fill="none"/>
<path d="M239.40 1358.90H993.16M256.78 1358.90V1366.90M285.54 1358.90V1366.90M314.30 1358.90V1366.90M343.06 1358.90V1366.90M371.82 1358.90V1366.90M400.58 1358.90V1366.90M429.34 1358.90V1366.90M458.10 1358.90V1366.90M486.86 1358.90V1366.90M515.62 1358.90V1366.90M544.38 1358.90V1366.90M573.14 1358.90V1366.90M601.90 1358.90V1366.90M630.66 1358.90V1366.90M659.42 1358.90V1366.90M688.18 1358.90V1366.90M716.94 1358.90V1366.90M745.70 1358.90V1366.90M774.46 1358.90V1366.90M803.22 1358.90V1366.90M831.98 1358.90V1366.90M860.74 1358.90V1366.90M889.50 1358.90V1366.90M918.26 1358.90V1366.90M947.02 1358.90V1366.90M975.78 1358.90V1366.90" stroke-width="1.9" fill="none"/>
<g class="st" font-size="21.5" text-anchor="middle">
<text transform="translate(257.3 1143.6) scale(1.04 1)">*</text>
<text transform="translate(286.0 1143.6) scale(1.04 1)">*</text>
<text transform="translate(314.8 1143.6) scale(1.04 1)">*</text>
<text transform="translate(343.6 1143.6) scale(1.04 1)">*</text>
<text transform="translate(372.3 1143.6) scale(1.04 1)">*</text>
<text transform="translate(402.7 1143.6) scale(1.04 1)">*</text>
<text transform="translate(431.4 1143.6) scale(1.04 1)">*</text>
<text transform="translate(460.2 1143.6) scale(1.04 1)">*</text>
<text transform="translate(489.0 1143.6) scale(1.04 1)">*</text>
<text transform="translate(517.7 1143.6) scale(1.04 1)">*</text>
<text transform="translate(546.5 1143.6) scale(1.04 1)">*</text>
<text transform="translate(575.2 1143.6) scale(1.04 1)">*</text>
<text transform="translate(604.0 1143.6) scale(1.04 1)">*</text>
<text transform="translate(661.7 1143.6) scale(1.04 1)">*</text>
<text transform="translate(918.8 1143.6) scale(1.04 1)">*</text>
<text transform="translate(947.5 1143.6) scale(1.04 1)">*</text>
<text transform="translate(976.3 1143.6) scale(1.04 1)">*</text>
<text transform="translate(257.3 1177.8) scale(1.04 1)">*</text>
<text transform="translate(286.0 1177.8) scale(1.04 1)">*</text>
<text transform="translate(314.8 1177.8) scale(1.04 1)">*</text>
<text transform="translate(343.6 1177.8) scale(1.04 1)">*</text>
<text transform="translate(372.3 1177.8) scale(1.04 1)">*</text>
<text transform="translate(402.7 1177.8) scale(1.04 1)">*</text>
<text transform="translate(431.4 1177.8) scale(1.04 1)">*</text>
<text transform="translate(460.2 1177.8) scale(1.04 1)">*</text>
<text transform="translate(489.0 1177.8) scale(1.04 1)">*</text>
<text transform="translate(517.7 1177.8) scale(1.04 1)">*</text>
<text transform="translate(546.5 1177.8) scale(1.04 1)">*</text>
<text transform="translate(575.2 1177.8) scale(1.04 1)">*</text>
<text transform="translate(604.0 1177.8) scale(1.04 1)">*</text>
<text transform="translate(661.7 1177.8) scale(1.04 1)">*</text>
<text transform="translate(918.8 1177.8) scale(1.04 1)">*</text>
<text transform="translate(947.5 1177.8) scale(1.04 1)">*</text>
<text transform="translate(976.3 1177.8) scale(1.04 1)">*</text>
<text transform="translate(257.3 1212.0) scale(1.04 1)">*</text>
<text transform="translate(286.0 1212.0) scale(1.04 1)">*</text>
<text transform="translate(314.8 1212.0) scale(1.04 1)">*</text>
<text transform="translate(343.6 1212.0) scale(1.04 1)">*</text>
<text transform="translate(372.3 1212.0) scale(1.04 1)">*</text>
<text transform="translate(402.7 1212.0) scale(1.04 1)">*</text>
<text transform="translate(431.4 1212.0) scale(1.04 1)">*</text>
<text transform="translate(460.2 1212.0) scale(1.04 1)">*</text>
<text transform="translate(489.0 1212.0) scale(1.04 1)">*</text>
<text transform="translate(517.7 1212.0) scale(1.04 1)">*</text>
<text transform="translate(546.5 1212.0) scale(1.04 1)">*</text>
<text transform="translate(575.2 1212.0) scale(1.04 1)">*</text>
<text transform="translate(604.0 1212.0) scale(1.04 1)">*</text>
<text transform="translate(631.2 1212.0) scale(1.04 1)">*</text>
<text transform="translate(661.7 1212.0) scale(1.04 1)">*</text>
<text transform="translate(918.8 1212.0) scale(1.04 1)">*</text>
<text transform="translate(947.5 1212.0) scale(1.04 1)">*</text>
<text transform="translate(976.3 1212.0) scale(1.04 1)">*</text>
<text transform="translate(257.3 1246.2) scale(1.04 1)">*</text>
<text transform="translate(286.0 1246.2) scale(1.04 1)">*</text>
<text transform="translate(314.8 1246.2) scale(1.04 1)">*</text>
<text transform="translate(343.6 1246.2) scale(1.04 1)">*</text>
<text transform="translate(372.3 1246.2) scale(1.04 1)">*</text>
<text transform="translate(402.7 1246.2) scale(1.04 1)">*</text>
<text transform="translate(431.4 1246.2) scale(1.04 1)">*</text>
<text transform="translate(460.2 1246.2) scale(1.04 1)">*</text>
<text transform="translate(489.0 1246.2) scale(1.04 1)">*</text>
<text transform="translate(517.7 1246.2) scale(1.04 1)">*</text>
<text transform="translate(546.5 1246.2) scale(1.04 1)">*</text>
<text transform="translate(575.2 1246.2) scale(1.04 1)">*</text>
<text transform="translate(604.0 1246.2) scale(1.04 1)">*</text>
<text transform="translate(631.2 1246.2) scale(1.04 1)">*</text>
<text transform="translate(661.7 1246.2) scale(1.04 1)">*</text>
<text transform="translate(918.8 1246.2) scale(1.04 1)">*</text>
<text transform="translate(947.5 1246.2) scale(1.04 1)">*</text>
<text transform="translate(976.3 1246.2) scale(1.04 1)">*</text>
<text transform="translate(257.3 1280.4) scale(1.04 1)">*</text>
<text transform="translate(286.0 1280.4) scale(1.04 1)">*</text>
<text transform="translate(314.8 1280.4) scale(1.04 1)">*</text>
<text transform="translate(343.6 1280.4) scale(1.04 1)">*</text>
<text transform="translate(372.3 1280.4) scale(1.04 1)">*</text>
<text transform="translate(402.7 1280.4) scale(1.04 1)">*</text>
<text transform="translate(431.4 1280.4) scale(1.04 1)">*</text>
<text transform="translate(460.2 1280.4) scale(1.04 1)">*</text>
<text transform="translate(489.0 1280.4) scale(1.04 1)">*</text>
<text transform="translate(517.7 1280.4) scale(1.04 1)">*</text>
<text transform="translate(546.5 1280.4) scale(1.04 1)">*</text>
<text transform="translate(575.2 1280.4) scale(1.04 1)">*</text>
<text transform="translate(604.0 1280.4) scale(1.04 1)">*</text>
<text transform="translate(631.2 1280.4) scale(1.04 1)">*</text>
<text transform="translate(661.7 1280.4) scale(1.04 1)">*</text>
<text transform="translate(688.7 1280.4) scale(1.04 1)">*</text>
<text transform="translate(918.8 1280.4) scale(1.04 1)">*</text>
<text transform="translate(947.5 1280.4) scale(1.04 1)">*</text>
<text transform="translate(976.3 1280.4) scale(1.04 1)">*</text>
<text transform="translate(257.3 1314.6) scale(1.04 1)">*</text>
<text transform="translate(286.0 1314.6) scale(1.04 1)">*</text>
<text transform="translate(314.8 1314.6) scale(1.04 1)">*</text>
<text transform="translate(343.6 1314.6) scale(1.04 1)">*</text>
<text transform="translate(372.3 1314.6) scale(1.04 1)">*</text>
<text transform="translate(402.7 1314.6) scale(1.04 1)">*</text>
<text transform="translate(431.4 1314.6) scale(1.04 1)">*</text>
<text transform="translate(460.2 1314.6) scale(1.04 1)">*</text>
<text transform="translate(489.0 1314.6) scale(1.04 1)">*</text>
<text transform="translate(517.7 1314.6) scale(1.04 1)">*</text>
<text transform="translate(546.5 1314.6) scale(1.04 1)">*</text>
<text transform="translate(575.2 1314.6) scale(1.04 1)">*</text>
<text transform="translate(604.0 1314.6) scale(1.04 1)">*</text>
<text transform="translate(631.2 1314.6) scale(1.04 1)">*</text>
<text transform="translate(661.7 1314.6) scale(1.04 1)">*</text>
<text transform="translate(688.7 1314.6) scale(1.04 1)">*</text>
<text transform="translate(947.5 1314.6) scale(1.04 1)">*</text>
<text transform="translate(976.3 1314.6) scale(1.04 1)">*</text>
<text transform="translate(257.3 1348.8) scale(1.04 1)">*</text>
<text transform="translate(286.0 1348.8) scale(1.04 1)">*</text>
<text transform="translate(314.8 1348.8) scale(1.04 1)">*</text>
<text transform="translate(343.6 1348.8) scale(1.04 1)">*</text>
<text transform="translate(372.3 1348.8) scale(1.04 1)">*</text>
<text transform="translate(402.7 1348.8) scale(1.04 1)">*</text>
<text transform="translate(431.4 1348.8) scale(1.04 1)">*</text>
<text transform="translate(460.2 1348.8) scale(1.04 1)">*</text>
<text transform="translate(489.0 1348.8) scale(1.04 1)">*</text>
<text transform="translate(517.7 1348.8) scale(1.04 1)">*</text>
<text transform="translate(546.5 1348.8) scale(1.04 1)">*</text>
<text transform="translate(575.2 1348.8) scale(1.04 1)">*</text>
<text transform="translate(604.0 1348.8) scale(1.04 1)">*</text>
<text transform="translate(630.0 1348.8) scale(1.04 1)">*</text>
<text transform="translate(690.3 1348.8) scale(1.04 1)">*</text>
<text transform="translate(947.5 1348.8) scale(1.04 1)">*</text>
<text transform="translate(976.3 1348.8) scale(1.04 1)">*</text>
</g>
<g font-size="28.6" font-style="italic" text-anchor="end">
<text transform="translate(268.8 1374.5) rotate(-90) scale(0.96 1)">Pten</text>
<text transform="translate(297.5 1374.5) rotate(-90) scale(0.96 1)">Lkb1</text>
<text transform="translate(326.3 1374.5) rotate(-90) scale(0.96 1)">Rb1</text>
<text transform="translate(355.1 1374.5) rotate(-90) scale(0.96 1)">Nf1</text>
<text transform="translate(383.8 1374.5) rotate(-90) scale(0.96 1)">Stag2</text>
<text transform="translate(412.6 1374.5) rotate(-90) scale(0.96 1)">Setd2</text>
<text transform="translate(441.3 1374.5) rotate(-90) scale(0.96 1)">Nf2</text>
<text transform="translate(470.1 1374.5) rotate(-90) scale(0.96 1)">Cdkn2c</text>
<text transform="translate(498.9 1374.5) rotate(-90) scale(0.96 1)">Cdkn2a</text>
<text transform="translate(527.6 1374.5) rotate(-90) scale(0.96 1)">Rnf43</text>
<text transform="translate(556.4 1374.5) rotate(-90) scale(0.96 1)">Cmtr2</text>
<text transform="translate(585.1 1374.5) rotate(-90) scale(0.96 1)">Dnmt3a</text>
<text transform="translate(613.9 1374.5) rotate(-90) scale(0.96 1)">Kmt2c</text>
<text transform="translate(642.7 1374.5) rotate(-90) scale(0.96 1)">Rbm10</text>
<text transform="translate(671.4 1374.5) rotate(-90) scale(0.96 1)">Kdm6a</text>
<text transform="translate(700.2 1374.5) rotate(-90) scale(0.96 1)">Keap1</text>
<text transform="translate(728.9 1374.5) rotate(-90) scale(0.96 1)">Inert</text>
<text transform="translate(757.7 1374.5) rotate(-90) scale(0.96 1)">Atm</text>
<text transform="translate(786.5 1374.5) rotate(-90) scale(0.96 1)">Fbxw7</text>
<text transform="translate(815.2 1374.5) rotate(-90) scale(0.96 1)">Arid1b</text>
<text transform="translate(844.0 1374.5) rotate(-90) scale(0.96 1)">p53</text>
<text transform="translate(872.7 1374.5) rotate(-90) scale(0.96 1)">Brca2</text>
<text transform="translate(901.5 1374.5) rotate(-90) scale(0.96 1)">Apc</text>
<text transform="translate(930.3 1374.5) rotate(-90) scale(0.96 1)">Arid1a</text>
<text transform="translate(959.0 1374.5) rotate(-90) scale(0.96 1)">Smarca4</text>
<text transform="translate(987.8 1374.5) rotate(-90) scale(0.96 1)">Pole</text>
</g>
<rect x="1012.5" y="1116.1" width="28.8" height="34.2" fill="#F0B09F" stroke="none"/>
<rect x="1012.5" y="1150.3" width="28.8" height="34.2" fill="#EFA796" stroke="none"/>
<rect x="1012.5" y="1184.5" width="28.8" height="34.2" fill="#EE9F8C" stroke="none"/>
<rect x="1012.5" y="1218.7" width="28.8" height="34.2" fill="#EE9683" stroke="none"/>
<rect x="1012.5" y="1252.9" width="28.8" height="34.2" fill="#ED8E79" stroke="none"/>
<rect x="1012.5" y="1287.1" width="28.8" height="34.2" fill="#EC8570" stroke="none"/>
<rect x="1012.5" y="1321.3" width="28.8" height="34.2" fill="#EA5A45" stroke="none"/>
<rect x="1041.3" y="1116.1" width="28.8" height="34.2" fill="#F6DDD3" stroke="none"/>
<rect x="1041.3" y="1150.3" width="28.8" height="34.2" fill="#F5D8CD" stroke="none"/>
<rect x="1041.3" y="1184.5" width="28.8" height="34.2" fill="#F4D3C8" stroke="none"/>
<rect x="1041.3" y="1218.7" width="28.8" height="34.2" fill="#F4CEC2" stroke="none"/>
<rect x="1041.3" y="1252.9" width="28.8" height="34.2" fill="#F3C9BD" stroke="none"/>
<rect x="1041.3" y="1287.1" width="28.8" height="34.2" fill="#F2C4B7" stroke="none"/>
<rect x="1041.3" y="1321.3" width="28.8" height="34.2" fill="#EFAD9C" stroke="none"/>
<rect x="1070.0" y="1116.1" width="28.8" height="34.2" fill="#FBF0EB" stroke="none"/>
<rect x="1070.0" y="1150.3" width="28.8" height="34.2" fill="#FAEEE9" stroke="none"/>
<rect x="1070.0" y="1184.5" width="28.8" height="34.2" fill="#FAECE6" stroke="none"/>
<rect x="1070.0" y="1218.7" width="28.8" height="34.2" fill="#F9EAE4" stroke="none"/>
<rect x="1070.0" y="1252.9" width="28.8" height="34.2" fill="#F9E8E1" stroke="none"/>
<rect x="1070.0" y="1287.1" width="28.8" height="34.2" fill="#F8E6DF" stroke="none"/>
<rect x="1070.0" y="1321.3" width="28.8" height="34.2" fill="#F6DCD3" stroke="none"/>
<rect x="1098.8" y="1116.1" width="28.8" height="34.2" fill="#F8E7E0" stroke="none"/>
<rect x="1098.8" y="1150.3" width="28.8" height="34.2" fill="#F8E5DE" stroke="none"/>
<rect x="1098.8" y="1184.5" width="28.8" height="34.2" fill="#F7E3DB" stroke="none"/>
<rect x="1098.8" y="1218.7" width="28.8" height="34.2" fill="#F7E1D9" stroke="none"/>
<rect x="1098.8" y="1252.9" width="28.8" height="34.2" fill="#F6DFD6" stroke="none"/>
<rect x="1098.8" y="1287.1" width="28.8" height="34.2" fill="#F6DDD4" stroke="none"/>
<rect x="1098.8" y="1321.3" width="28.8" height="34.2" fill="#F4D3C8" stroke="none"/>
<rect x="1127.5" y="1116.1" width="28.8" height="34.2" fill="#F7E2DA" stroke="none"/>
<rect x="1127.5" y="1150.3" width="28.8" height="34.2" fill="#F6DFD7" stroke="none"/>
<rect x="1127.5" y="1184.5" width="28.8" height="34.2" fill="#F6DDD4" stroke="none"/>
<rect x="1127.5" y="1218.7" width="28.8" height="34.2" fill="#F5DAD0" stroke="none"/>
<rect x="1127.5" y="1252.9" width="28.8" height="34.2" fill="#F5D8CD" stroke="none"/>
<rect x="1127.5" y="1287.1" width="28.8" height="34.2" fill="#F4D5CA" stroke="none"/>
<rect x="1127.5" y="1321.3" width="28.8" height="34.2" fill="#F2CBBE" stroke="none"/>
<rect x="1156.3" y="1116.1" width="28.8" height="34.2" fill="#FAEEE8" stroke="none"/>
<rect x="1156.3" y="1150.3" width="28.8" height="34.2" fill="#FAEDE7" stroke="none"/>
<rect x="1156.3" y="1184.5" width="28.8" height="34.2" fill="#FAECE5" stroke="none"/>
<rect x="1156.3" y="1218.7" width="28.8" height="34.2" fill="#F9EAE4" stroke="none"/>
<rect x="1156.3" y="1252.9" width="28.8" height="34.2" fill="#F9E9E2" stroke="none"/>
<rect x="1156.3" y="1287.1" width="28.8" height="34.2" fill="#F9E8E1" stroke="none"/>
<rect x="1156.3" y="1321.3" width="28.8" height="34.2" fill="#F7E2DA" stroke="none"/>
<rect x="1185.1" y="1116.1" width="28.8" height="34.2" fill="#FDF7F4" stroke="none"/>
<rect x="1185.1" y="1150.3" width="28.8" height="34.2" fill="#FDF6F3" stroke="none"/>
<rect x="1185.1" y="1184.5" width="28.8" height="34.2" fill="#FCF5F2" stroke="none"/>
<rect x="1185.1" y="1218.7" width="28.8" height="34.2" fill="#FCF4F0" stroke="none"/>
<rect x="1185.1" y="1252.9" width="28.8" height="34.2" fill="#FBF3EF" stroke="none"/>
<rect x="1185.1" y="1287.1" width="28.8" height="34.2" fill="#FBF2EE" stroke="none"/>
<rect x="1185.1" y="1321.3" width="28.8" height="34.2" fill="#FAEEE9" stroke="none"/>
<rect x="1213.8" y="1116.1" width="28.8" height="34.2" fill="#FBF2EE" stroke="none"/>
<rect x="1213.8" y="1150.3" width="28.8" height="34.2" fill="#FBF1ED" stroke="none"/>
<rect x="1213.8" y="1184.5" width="28.8" height="34.2" fill="#FBF0EB" stroke="none"/>
<rect x="1213.8" y="1218.7" width="28.8" height="34.2" fill="#FAEEEA" stroke="none"/>
<rect x="1213.8" y="1252.9" width="28.8" height="34.2" fill="#FAEDE8" stroke="none"/>
<rect x="1213.8" y="1287.1" width="28.8" height="34.2" fill="#FAECE7" stroke="none"/>
<rect x="1213.8" y="1321.3" width="28.8" height="34.2" fill="#F8E6DF" stroke="none"/>
<rect x="1271.3" y="1116.1" width="28.8" height="34.2" fill="#FDF8F6" stroke="none"/>
<rect x="1271.3" y="1150.3" width="28.8" height="34.2" fill="#FDF8F6" stroke="none"/>
<rect x="1271.3" y="1184.5" width="28.8" height="34.2" fill="#FDF8F5" stroke="none"/>
<rect x="1271.3" y="1218.7" width="28.8" height="34.2" fill="#FDF7F5" stroke="none"/>
<rect x="1271.3" y="1252.9" width="28.8" height="34.2" fill="#FDF7F4" stroke="none"/>
<rect x="1271.3" y="1287.1" width="28.8" height="34.2" fill="#FDF7F4" stroke="none"/>
<rect x="1271.3" y="1321.3" width="28.8" height="34.2" fill="#FCF5F2" stroke="none"/>
<rect x="1300.1" y="1116.1" width="28.8" height="34.2" fill="#FEFAF8" stroke="none"/>
<rect x="1300.1" y="1150.3" width="28.8" height="34.2" fill="#FEFAF8" stroke="none"/>
<rect x="1300.1" y="1184.5" width="28.8" height="34.2" fill="#FEFAF8" stroke="none"/>
<rect x="1300.1" y="1218.7" width="28.8" height="34.2" fill="#FDF9F7" stroke="none"/>
<rect x="1300.1" y="1252.9" width="28.8" height="34.2" fill="#FDF9F7" stroke="none"/>
<rect x="1300.1" y="1287.1" width="28.8" height="34.2" fill="#FDF9F7" stroke="none"/>
<rect x="1300.1" y="1321.3" width="28.8" height="34.2" fill="#FDF7F4" stroke="none"/>
<rect x="1328.9" y="1116.1" width="28.8" height="34.2" fill="#FEFCFB" stroke="none"/>
<rect x="1328.9" y="1150.3" width="28.8" height="34.2" fill="#FEFCFB" stroke="none"/>
<rect x="1328.9" y="1184.5" width="28.8" height="34.2" fill="#FEFCFB" stroke="none"/>
<rect x="1328.9" y="1218.7" width="28.8" height="34.2" fill="#FEFCFB" stroke="none"/>
<rect x="1328.9" y="1252.9" width="28.8" height="34.2" fill="#FEFCFB" stroke="none"/>
<rect x="1328.9" y="1287.1" width="28.8" height="34.2" fill="#FEFCFB" stroke="none"/>
<rect x="1328.9" y="1321.3" width="28.8" height="34.2" fill="#FDFAF8" stroke="none"/>
<rect x="1386.4" y="1116.1" width="28.8" height="34.2" fill="#FDFDFE" stroke="none"/>
<rect x="1386.4" y="1150.3" width="28.8" height="34.2" fill="#FDFDFE" stroke="none"/>
<rect x="1386.4" y="1184.5" width="28.8" height="34.2" fill="#FDFDFE" stroke="none"/>
<rect x="1386.4" y="1218.7" width="28.8" height="34.2" fill="#FCFCFE" stroke="none"/>
<rect x="1386.4" y="1252.9" width="28.8" height="34.2" fill="#FCFCFE" stroke="none"/>
<rect x="1386.4" y="1287.1" width="28.8" height="34.2" fill="#FCFCFE" stroke="none"/>
<rect x="1386.4" y="1321.3" width="28.8" height="34.2" fill="#FBFBFD" stroke="none"/>
<rect x="1415.1" y="1116.1" width="28.8" height="34.2" fill="#F8F8FC" stroke="none"/>
<rect x="1415.1" y="1150.3" width="28.8" height="34.2" fill="#F8F8FC" stroke="none"/>
<rect x="1415.1" y="1184.5" width="28.8" height="34.2" fill="#F8F8FC" stroke="none"/>
<rect x="1415.1" y="1218.7" width="28.8" height="34.2" fill="#F8F8FC" stroke="none"/>
<rect x="1415.1" y="1252.9" width="28.8" height="34.2" fill="#F8F8FC" stroke="none"/>
<rect x="1415.1" y="1287.1" width="28.8" height="34.2" fill="#F8F8FC" stroke="none"/>
<rect x="1415.1" y="1321.3" width="28.8" height="34.2" fill="#F6F6FB" stroke="none"/>
<rect x="1443.9" y="1116.1" width="28.8" height="34.2" fill="#FDFAF8" stroke="none"/>
<rect x="1443.9" y="1150.3" width="28.8" height="34.2" fill="#FDFAF8" stroke="none"/>
<rect x="1443.9" y="1184.5" width="28.8" height="34.2" fill="#FDFAF8" stroke="none"/>
<rect x="1443.9" y="1218.7" width="28.8" height="34.2" fill="#FDFAF8" stroke="none"/>
<rect x="1443.9" y="1252.9" width="28.8" height="34.2" fill="#FDFAF8" stroke="none"/>
<rect x="1443.9" y="1287.1" width="28.8" height="34.2" fill="#FDFAF8" stroke="none"/>
<rect x="1443.9" y="1321.3" width="28.8" height="34.2" fill="#FCF7F4" stroke="none"/>
<rect x="1501.4" y="1321.3" width="28.8" height="34.2" fill="#FEFCFA" stroke="none"/>
<rect x="1558.9" y="1116.1" width="28.8" height="34.2" fill="#FAFAFD" stroke="none"/>
<rect x="1558.9" y="1150.3" width="28.8" height="34.2" fill="#FAFAFD" stroke="none"/>
<rect x="1558.9" y="1184.5" width="28.8" height="34.2" fill="#FBFBFD" stroke="none"/>
<rect x="1558.9" y="1218.7" width="28.8" height="34.2" fill="#FBFBFE" stroke="none"/>
<rect x="1558.9" y="1252.9" width="28.8" height="34.2" fill="#FCFCFE" stroke="none"/>
<rect x="1558.9" y="1287.1" width="28.8" height="34.2" fill="#FCFCFE" stroke="none"/>
<rect x="1616.5" y="1116.1" width="28.8" height="34.2" fill="#F6F6FB" stroke="none"/>
<rect x="1616.5" y="1150.3" width="28.8" height="34.2" fill="#F6F6FB" stroke="none"/>
<rect x="1616.5" y="1184.5" width="28.8" height="34.2" fill="#F6F6FB" stroke="none"/>
<rect x="1616.5" y="1218.7" width="28.8" height="34.2" fill="#F7F7FC" stroke="none"/>
<rect x="1616.5" y="1252.9" width="28.8" height="34.2" fill="#F7F7FC" stroke="none"/>
<rect x="1616.5" y="1287.1" width="28.8" height="34.2" fill="#F7F7FC" stroke="none"/>
<rect x="1616.5" y="1321.3" width="28.8" height="34.2" fill="#FAFAFD" stroke="none"/>
<rect x="1645.2" y="1116.1" width="28.8" height="34.2" fill="#F4F4FA" stroke="none"/>
<rect x="1645.2" y="1150.3" width="28.8" height="34.2" fill="#F4F4FA" stroke="none"/>
<rect x="1645.2" y="1184.5" width="28.8" height="34.2" fill="#F4F4FA" stroke="none"/>
<rect x="1645.2" y="1218.7" width="28.8" height="34.2" fill="#F4F4FA" stroke="none"/>
<rect x="1645.2" y="1252.9" width="28.8" height="34.2" fill="#F4F4FA" stroke="none"/>
<rect x="1645.2" y="1287.1" width="28.8" height="34.2" fill="#F4F4FA" stroke="none"/>
<rect x="1645.2" y="1321.3" width="28.8" height="34.2" fill="#F3F3F9" stroke="none"/>
<rect x="1731.5" y="1116.1" width="28.8" height="34.2" fill="#F4F4FA" stroke="none"/>
<rect x="1731.5" y="1150.3" width="28.8" height="34.2" fill="#F4F4FA" stroke="none"/>
<rect x="1731.5" y="1184.5" width="28.8" height="34.2" fill="#F4F4FA" stroke="none"/>
<rect x="1731.5" y="1218.7" width="28.8" height="34.2" fill="#F4F4FA" stroke="none"/>
<rect x="1731.5" y="1252.9" width="28.8" height="34.2" fill="#F4F4FA" stroke="none"/>
<rect x="1731.5" y="1287.1" width="28.8" height="34.2" fill="#F4F4FA" stroke="none"/>
<rect x="1731.5" y="1321.3" width="28.8" height="34.2" fill="#F2F2F9" stroke="none"/>
<path d="M1012.50 1115.20V1356.40M1041.26 1115.20V1356.40M1070.02 1115.20V1356.40M1098.78 1115.20V1356.40M1127.54 1115.20V1356.40M1156.30 1115.20V1356.40M1185.06 1115.20V1356.40M1213.82 1115.20V1356.40M1242.58 1115.20V1356.40M1271.34 1115.20V1356.40M1300.10 1115.20V1356.40M1328.86 1115.20V1356.40M1357.62 1115.20V1356.40M1386.38 1115.20V1356.40M1415.14 1115.20V1356.40M1443.90 1115.20V1356.40M1472.66 1115.20V1356.40M1501.42 1115.20V1356.40M1530.18 1115.20V1356.40M1558.94 1115.20V1356.40M1587.70 1115.20V1356.40M1616.46 1115.20V1356.40M1645.22 1115.20V1356.40M1673.98 1115.20V1356.40M1702.74 1115.20V1356.40M1731.50 1115.20V1356.40M1760.26 1115.20V1356.40M1011.60 1116.10H1761.16M1011.60 1150.30H1761.16M1011.60 1184.50H1761.16M1011.60 1218.70H1761.16M1011.60 1252.90H1761.16M1011.60 1287.10H1761.16M1011.60 1321.30H1761.16M1011.60 1355.50H1761.16" stroke-width="2.1" fill="none"/>
<path d="M1009.50 1358.90H1763.26M1026.88 1358.90V1366.90M1055.64 1358.90V1366.90M1084.40 1358.90V1366.90M1113.16 1358.90V1366.90M1141.92 1358.90V1366.90M1170.68 1358.90V1366.90M1199.44 1358.90V1366.90M1228.20 1358.90V1366.90M1256.96 1358.90V1366.90M1285.72 1358.90V1366.90M1314.48 1358.90V1366.90M1343.24 1358.90V1366.90M1372.00 1358.90V1366.90M1400.76 1358.90V1366.90M1429.52 1358.90V1366.90M1458.28 1358.90V1366.90M1487.04 1358.90V1366.90M1515.80 1358.90V1366.90M1544.56 1358.90V1366.90M1573.32 1358.90V1366.90M1602.08 1358.90V1366.90M1630.84 1358.90V1366.90M1659.60 1358.90V1366.90M1688.36 1358.90V1366.90M1717.12 1358.90V1366.90M1745.88 1358.90V1366.90" stroke-width="1.9" fill="none"/>
<g class="st" font-size="21.5" text-anchor="middle">
<text transform="translate(1027.4 1143.6) scale(1.04 1)">*</text>
<text transform="translate(1056.1 1143.6) scale(1.04 1)">*</text>
<text transform="translate(1086.9 1143.6) scale(1.04 1)">*</text>
<text transform="translate(1113.7 1143.6) scale(1.04 1)">*</text>
<text transform="translate(1142.4 1143.6) scale(1.04 1)">*</text>
<text transform="translate(1171.2 1143.6) scale(1.04 1)">*</text>
<text transform="translate(1199.9 1143.6) scale(1.04 1)">*</text>
<text transform="translate(1229.5 1143.6) scale(1.04 1)">*</text>
<text transform="translate(1286.2 1143.6) scale(1.04 1)">*</text>
<text transform="translate(1315.0 1143.6) scale(1.04 1)">*</text>
<text transform="translate(1401.3 1143.6) scale(1.04 1)">*</text>
<text transform="translate(1430.0 1143.6) scale(1.04 1)">*</text>
<text transform="translate(1458.8 1143.6) scale(1.04 1)">*</text>
<text transform="translate(1573.8 1143.6) scale(1.04 1)">*</text>
<text transform="translate(1631.3 1143.6) scale(1.04 1)">*</text>
<text transform="translate(1660.1 1143.6) scale(1.04 1)">*</text>
<text transform="translate(1746.4 1143.6) scale(1.04 1)">*</text>
<text transform="translate(1027.4 1177.8) scale(1.04 1)">*</text>
<text transform="translate(1056.1 1177.8) scale(1.04 1)">*</text>
<text transform="translate(1086.9 1177.8) scale(1.04 1)">*</text>
<text transform="translate(1113.7 1177.8) scale(1.04 1)">*</text>
<text transform="translate(1142.4 1177.8) scale(1.04 1)">*</text>
<text transform="translate(1171.2 1177.8) scale(1.04 1)">*</text>
<text transform="translate(1199.9 1177.8) scale(1.04 1)">*</text>
<text transform="translate(1229.5 1177.8) scale(1.04 1)">*</text>
<text transform="translate(1286.2 1177.8) scale(1.04 1)">*</text>
<text transform="translate(1315.0 1177.8) scale(1.04 1)">*</text>
<text transform="translate(1401.3 1177.8) scale(1.04 1)">*</text>
<text transform="translate(1430.0 1177.8) scale(1.04 1)">*</text>
<text transform="translate(1458.8 1177.8) scale(1.04 1)">*</text>
<text transform="translate(1573.8 1177.8) scale(1.04 1)">*</text>
<text transform="translate(1631.3 1177.8) scale(1.04 1)">*</text>
<text transform="translate(1660.1 1177.8) scale(1.04 1)">*</text>
<text transform="translate(1746.4 1177.8) scale(1.04 1)">*</text>
<text transform="translate(1027.4 1212.0) scale(1.04 1)">*</text>
<text transform="translate(1056.1 1212.0) scale(1.04 1)">*</text>
<text transform="translate(1086.9 1212.0) scale(1.04 1)">*</text>
<text transform="translate(1113.7 1212.0) scale(1.04 1)">*</text>
<text transform="translate(1142.4 1212.0) scale(1.04 1)">*</text>
<text transform="translate(1171.2 1212.0) scale(1.04 1)">*</text>
<text transform="translate(1199.9 1212.0) scale(1.04 1)">*</text>
<text transform="translate(1229.5 1212.0) scale(1.04 1)">*</text>
<text transform="translate(1286.2 1212.0) scale(1.04 1)">*</text>
<text transform="translate(1315.0 1212.0) scale(1.04 1)">*</text>
<text transform="translate(1401.3 1212.0) scale(1.04 1)">*</text>
<text transform="translate(1430.0 1212.0) scale(1.04 1)">*</text>
<text transform="translate(1458.8 1212.0) scale(1.04 1)">*</text>
<text transform="translate(1573.8 1212.0) scale(1.04 1)">*</text>
<text transform="translate(1631.3 1212.0) scale(1.04 1)">*</text>
<text transform="translate(1660.1 1212.0) scale(1.04 1)">*</text>
<text transform="translate(1746.4 1212.0) scale(1.04 1)">*</text>
<text transform="translate(1027.4 1246.2) scale(1.04 1)">*</text>
<text transform="translate(1056.1 1246.2) scale(1.04 1)">*</text>
<text transform="translate(1086.9 1246.2) scale(1.04 1)">*</text>
<text transform="translate(1113.7 1246.2) scale(1.04 1)">*</text>
<text transform="translate(1142.4 1246.2) scale(1.04 1)">*</text>
<text transform="translate(1171.2 1246.2) scale(1.04 1)">*</text>
<text transform="translate(1199.9 1246.2) scale(1.04 1)">*</text>
<text transform="translate(1229.5 1246.2) scale(1.04 1)">*</text>
<text transform="translate(1286.2 1246.2) scale(1.04 1)">*</text>
<text transform="translate(1315.0 1246.2) scale(1.04 1)">*</text>
<text transform="translate(1401.3 1246.2) scale(1.04 1)">*</text>
<text transform="translate(1430.0 1246.2) scale(1.04 1)">*</text>
<text transform="translate(1458.8 1246.2) scale(1.04 1)">*</text>
<text transform="translate(1573.8 1246.2) scale(1.04 1)">*</text>
<text transform="translate(1631.3 1246.2) scale(1.04 1)">*</text>
<text transform="translate(1660.1 1246.2) scale(1.04 1)">*</text>
<text transform="translate(1746.4 1246.2) scale(1.04 1)">*</text>
<text transform="translate(1027.4 1280.4) scale(1.04 1)">*</text>
<text transform="translate(1056.1 1280.4) scale(1.04 1)">*</text>
<text transform="translate(1086.9 1280.4) scale(1.04 1)">*</text>
<text transform="translate(1113.7 1280.4) scale(1.04 1)">*</text>
<text transform="translate(1142.4 1280.4) scale(1.04 1)">*</text>
<text transform="translate(1171.2 1280.4) scale(1.04 1)">*</text>
<text transform="translate(1199.9 1280.4) scale(1.04 1)">*</text>
<text transform="translate(1229.5 1280.4) scale(1.04 1)">*</text>
<text transform="translate(1286.2 1280.4) scale(1.04 1)">*</text>
<text transform="translate(1315.0 1280.4) scale(1.04 1)">*</text>
<text transform="translate(1401.3 1280.4) scale(1.04 1)">*</text>
<text transform="translate(1430.0 1280.4) scale(1.04 1)">*</text>
<text transform="translate(1458.8 1280.4) scale(1.04 1)">*</text>
<text transform="translate(1573.8 1280.4) scale(1.04 1)">*</text>
<text transform="translate(1631.3 1280.4) scale(1.04 1)">*</text>
<text transform="translate(1660.1 1280.4) scale(1.04 1)">*</text>
<text transform="translate(1746.4 1280.4) scale(1.04 1)">*</text>
<text transform="translate(1027.4 1314.6) scale(1.04 1)">*</text>
<text transform="translate(1056.1 1314.6) scale(1.04 1)">*</text>
<text transform="translate(1086.9 1314.6) scale(1.04 1)">*</text>
<text transform="translate(1113.7 1314.6) scale(1.04 1)">*</text>
<text transform="translate(1142.4 1314.6) scale(1.04 1)">*</text>
<text transform="translate(1171.2 1314.6) scale(1.04 1)">*</text>
<text transform="translate(1199.9 1314.6) scale(1.04 1)">*</text>
<text transform="translate(1229.5 1314.6) scale(1.04 1)">*</text>
<text transform="translate(1286.2 1314.6) scale(1.04 1)">*</text>
<text transform="translate(1315.0 1314.6) scale(1.04 1)">*</text>
<text transform="translate(1401.3 1314.6) scale(1.04 1)">*</text>
<text transform="translate(1430.0 1314.6) scale(1.04 1)">*</text>
<text transform="translate(1458.8 1314.6) scale(1.04 1)">*</text>
<text transform="translate(1631.3 1314.6) scale(1.04 1)">*</text>
<text transform="translate(1660.1 1314.6) scale(1.04 1)">*</text>
<text transform="translate(1746.4 1314.6) scale(1.04 1)">*</text>
<text transform="translate(1027.4 1348.8) scale(1.04 1)">*</text>
<text transform="translate(1056.1 1348.8) scale(1.04 1)">*</text>
<text transform="translate(1086.9 1348.8) scale(1.04 1)">*</text>
<text transform="translate(1113.7 1348.8) scale(1.04 1)">*</text>
<text transform="translate(1142.4 1348.8) scale(1.04 1)">*</text>
<text transform="translate(1171.2 1348.8) scale(1.04 1)">*</text>
<text transform="translate(1199.9 1348.8) scale(1.04 1)">*</text>
<text transform="translate(1229.5 1348.8) scale(1.04 1)">*</text>
<text transform="translate(1286.2 1348.8) scale(1.04 1)">*</text>
<text transform="translate(1315.0 1348.8) scale(1.04 1)">*</text>
<text transform="translate(1401.3 1348.8) scale(1.04 1)">*</text>
<text transform="translate(1430.0 1348.8) scale(1.04 1)">*</text>
<text transform="translate(1458.8 1348.8) scale(1.04 1)">*</text>
<text transform="translate(1516.3 1348.8) scale(1.04 1)">*</text>
<text transform="translate(1660.1 1348.8) scale(1.04 1)">*</text>
<text transform="translate(1746.4 1348.8) scale(1.04 1)">*</text>
</g>
<g font-size="28.6" font-style="italic" text-anchor="end">
<text transform="translate(1038.9 1374.5) rotate(-90) scale(0.96 1)">Pten</text>
<text transform="translate(1067.6 1374.5) rotate(-90) scale(0.96 1)">Lkb1</text>
<text transform="translate(1096.4 1374.5) rotate(-90) scale(0.96 1)">Rb1</text>
<text transform="translate(1125.2 1374.5) rotate(-90) scale(0.96 1)">Nf1</text>
<text transform="translate(1153.9 1374.5) rotate(-90) scale(0.96 1)">Stag2</text>
<text transform="translate(1182.7 1374.5) rotate(-90) scale(0.96 1)">Setd2</text>
<text transform="translate(1211.4 1374.5) rotate(-90) scale(0.96 1)">Nf2</text>
<text transform="translate(1240.2 1374.5) rotate(-90) scale(0.96 1)">Cdkn2c</text>
<text transform="translate(1269.0 1374.5) rotate(-90) scale(0.96 1)">Cdkn2a</text>
<text transform="translate(1297.7 1374.5) rotate(-90) scale(0.96 1)">Rnf43</text>
<text transform="translate(1326.5 1374.5) rotate(-90) scale(0.96 1)">Cmtr2</text>
<text transform="translate(1355.2 1374.5) rotate(-90) scale(0.96 1)">Dnmt3a</text>
<text transform="translate(1384.0 1374.5) rotate(-90) scale(0.96 1)">Kmt2c</text>
<text transform="translate(1412.8 1374.5) rotate(-90) scale(0.96 1)">Rbm10</text>
<text transform="translate(1441.5 1374.5) rotate(-90) scale(0.96 1)">Kdm6a</text>
<text transform="translate(1470.3 1374.5) rotate(-90) scale(0.96 1)">Keap1</text>
<text transform="translate(1499.0 1374.5) rotate(-90) scale(0.96 1)">Inert</text>
<text transform="translate(1527.8 1374.5) rotate(-90) scale(0.96 1)">Atm</text>
<text transform="translate(1556.6 1374.5) rotate(-90) scale(0.96 1)">Fbxw7</text>
<text transform="translate(1585.3 1374.5) rotate(-90) scale(0.96 1)">Arid1b</text>
<text transform="translate(1614.1 1374.5) rotate(-90) scale(0.96 1)">p53</text>
<text transform="translate(1642.8 1374.5) rotate(-90) scale(0.96 1)">Brca2</text>
<text transform="translate(1671.6 1374.5) rotate(-90) scale(0.96 1)">Apc</text>
<text transform="translate(1700.4 1374.5) rotate(-90) scale(0.96 1)">Arid1a</text>
<text transform="translate(1729.1 1374.5) rotate(-90) scale(0.96 1)">Smarca4</text>
<text transform="translate(1757.9 1374.5) rotate(-90) scale(0.96 1)">Pole</text>
</g>
</g>
<text font-size="36.8" transform="translate(490.4 81.7) scale(1.011 1)" xml:space="preserve">Young <tspan font-style="italic" dx="1.5">K;H11</tspan><tspan font-style="italic" font-size="21.3" dy="-11.4" dx="-0.5">LSL-Cas9</tspan></text>
<text font-size="36.8" transform="translate(1268.5 81.7) scale(1.011 1)" xml:space="preserve">Aged <tspan font-style="italic" dx="1.5">K;H11</tspan><tspan font-style="italic" font-size="21.3" dy="-11.4" dx="-0.5">LSL-Cas9</tspan></text>
<text font-size="36.8" transform="translate(478.5 1094.3) scale(1.011 1)" xml:space="preserve">Young <tspan font-style="italic" dx="1.5">KP;H11</tspan><tspan font-style="italic" font-size="21.3" dy="-11.4" dx="-0.5">LSL-Cas9</tspan></text>
<text font-size="36.8" transform="translate(1255.5 1094.3) scale(1.011 1)" xml:space="preserve">Aged <tspan font-style="italic" dx="1.5">KP;H11</tspan><tspan font-style="italic" font-size="21.3" dy="-11.4" dx="-0.5">LSL-Cas9</tspan></text>
<text font-size="37.3" transform="translate(326.0 515.6) scale(1.011 1)" xml:space="preserve"><tspan font-style="italic">K;H11</tspan><tspan font-style="italic" font-size="21.6" dy="-11.6" dx="-0.5">LSL-Cas9</tspan></text>
<text font-size="34.3" transform="translate(941.5 524.4) scale(1.011 1)" xml:space="preserve"><tspan font-style="italic">K;H11</tspan><tspan font-style="italic" font-size="19.9" dy="-10.7" dx="-0.5">LSL-Cas9</tspan></text>
<text font-size="35.9" transform="translate(291.5 1504.7) scale(1.011 1)" xml:space="preserve"><tspan font-style="italic">KP;H11</tspan><tspan font-style="italic" font-size="20.8" dy="-11.2" dx="-0.5">LSL-Cas9</tspan></text>
<text font-size="30.6" transform="translate(914.8 1538.0) scale(1.011 1)" xml:space="preserve"><tspan font-style="italic">KP;H11</tspan><tspan font-style="italic" font-size="17.7" dy="-9.5" dx="-0.5">LSL-Cas9</tspan></text>
<text font-size="45.8" font-weight="bold" transform="translate(4.7 28.6) scale(0.935 1)">a</text>
<text font-size="42.0" font-weight="bold" transform="translate(4.0 515.6) scale(1.047 1)">b</text>
<text font-size="43.1" font-weight="bold" transform="translate(753.5 514.6) scale(0.966 1)">c</text>
<text font-size="44.5" font-weight="bold" transform="translate(4.3 1072.4) scale(1.056 1)">d</text>
<text font-size="43.6" font-weight="bold" transform="translate(4.2 1545.5) scale(0.994 1)">e</text>
<text font-size="41.4" font-weight="bold" transform="translate(745.4 1545.0)">f</text>
<g font-size="28.2" text-anchor="end">
<text transform="translate(225.0 126.4) scale(1.012 1)">+50%</text>
<text transform="translate(225.0 160.7) scale(1.012 1)">+25%</text>
<text transform="translate(225.0 195.0) scale(1.012 1)">+10%</text>
<text transform="translate(225.0 229.3) scale(1.012 1)">Baseline</text>
<text transform="translate(225.0 263.6) scale(1.012 1)">−10%</text>
<text transform="translate(225.0 297.9) scale(1.012 1)">−25%</text>
<text transform="translate(225.0 332.2) scale(1.012 1)">−50%</text>
</g>
<text font-size="34.2" text-anchor="middle" transform="translate(28.5 233.2) rotate(-90) scale(0.916 1)">Number of adaptively</text>
<text font-size="34.2" text-anchor="middle" transform="translate(61.6 231.5) rotate(-90) scale(0.932 1)">sampled tumors</text>
<text font-size="29.4" transform="translate(93.2 301.5) rotate(-90) scale(0.91 1)">(N</text>
<text font-size="17.0" transform="translate(102.4 272.2) rotate(-90) scale(0.974 1)">i=NT1, j=Young</text>
<text font-size="29.4" transform="translate(93.2 160.0) rotate(-90) scale(0.91 1)">)</text>
<g font-size="28.2" text-anchor="end">
<text transform="translate(225.0 1144.0) scale(1.012 1)">+50%</text>
<text transform="translate(225.0 1178.1) scale(1.012 1)">+25%</text>
<text transform="translate(225.0 1212.2) scale(1.012 1)">+10%</text>
<text transform="translate(225.0 1246.3) scale(1.012 1)">Baseline</text>
<text transform="translate(225.0 1280.4) scale(1.012 1)">−10%</text>
<text transform="translate(225.0 1314.5) scale(1.012 1)">−25%</text>
<text transform="translate(225.0 1348.6) scale(1.012 1)">−50%</text>
</g>
<text font-size="34.2" text-anchor="middle" transform="translate(28.5 1263.2) rotate(-90) scale(0.916 1)">Number of adaptively</text>
<text font-size="34.2" text-anchor="middle" transform="translate(61.6 1268.0) rotate(-90) scale(0.932 1)">sampled tumors</text>
<text font-size="29.4" transform="translate(93.2 1340.5) rotate(-90) scale(0.91 1)">(N</text>
<text font-size="17.0" transform="translate(102.4 1311.2) rotate(-90) scale(0.974 1)">i=NT1, j=Young</text>
<text font-size="29.4" transform="translate(93.2 1199.0) rotate(-90) scale(0.91 1)">)</text>
<defs>
<linearGradient id="cb1" x1="0" x2="1" y1="0" y2="0"><stop offset="0" stop-color="#E3E3F1"/><stop offset="0.06" stop-color="#EDEDF6"/><stop offset="0.115" stop-color="#FFFFFF"/><stop offset="0.155" stop-color="#FFFFFF"/><stop offset="0.21" stop-color="#FCF4F1"/><stop offset="0.345" stop-color="#F5D9CF"/><stop offset="0.555" stop-color="#EEA593"/><stop offset="0.765" stop-color="#EB6C56"/><stop offset="0.92" stop-color="#EC4434"/><stop offset="1" stop-color="#EE2A25"/></linearGradient>
<linearGradient id="cb2" x1="0" x2="1" y1="0" y2="0"><stop offset="0" stop-color="#E3E3F1"/><stop offset="0.06" stop-color="#EDEDF6"/><stop offset="0.118" stop-color="#FFFFFF"/><stop offset="0.158" stop-color="#FFFFFF"/><stop offset="0.21" stop-color="#FCF4F1"/><stop offset="0.305" stop-color="#F6DDD4"/><stop offset="0.47" stop-color="#F0B3A3"/><stop offset="0.625" stop-color="#EC8873"/><stop offset="0.80" stop-color="#EB5F4A"/><stop offset="0.94" stop-color="#EC3F30"/><stop offset="1" stop-color="#EE2A25"/></linearGradient>
</defs>
<rect x="1830.2" y="230.2" width="268.6" height="53.0" fill="url(#cb1)" stroke-width="2.1"/>
<path d="M1866.5 230.2v9.2M1866.5 283.2v-9.2M1923.1 230.2v9.2M1923.1 283.2v-9.2M1979.4 230.2v9.2M1979.4 283.2v-9.2M2036.0 230.2v9.2M2036.0 283.2v-9.2M2092.6 230.2v9.2M2092.6 283.2v-9.2" stroke-width="1.7" fill="none"/>
<g font-size="26.3" text-anchor="middle">
<text transform="translate(1866.5 321.0) scale(1.028 1)">1</text>
<text transform="translate(1923.1 321.0) scale(1.028 1)">2</text>
<text transform="translate(1979.4 321.0) scale(1.028 1)">4</text>
<text transform="translate(2036.0 321.0) scale(1.028 1)">8</text>
<text transform="translate(2092.6 321.0) scale(1.028 1)">16</text>
</g>
<text font-size="30.7" transform="translate(1796.4 161.2) scale(1.029 1)">Adaptively Sampled Mean</text>
<text font-size="26.8" transform="translate(1834.8 195.6) scale(1.027 1)">(normalized to sg<tspan font-style="italic">Inerts</tspan>)</text>
<rect x="1851.3" y="1226.4" width="268.7" height="52.6" fill="url(#cb2)" stroke-width="2.1"/>
<path d="M1888.3 1226.4v9.2M1888.3 1279.0v-9.2M1932.8 1226.4v9.2M1932.8 1279.0v-9.2M2019.7 1226.4v9.2M2019.7 1279.0v-9.2M2106.3 1226.4v9.2M2106.3 1279.0v-9.2" stroke-width="1.7" fill="none"/>
<g font-size="26.3" text-anchor="middle">
<text transform="translate(1888.3 1316.4) scale(1.028 1)">1</text>
<text transform="translate(1932.8 1316.4) scale(1.028 1)">2</text>
<text transform="translate(2019.7 1316.4) scale(1.028 1)">8</text>
<text transform="translate(2106.3 1316.4) scale(1.028 1)">32</text>
</g>
<text font-size="30.7" transform="translate(1802.4 1164.2) scale(1.029 1)">Adaptively Sampled Mean</text>
<text font-size="26.8" transform="translate(1840.8 1198.5) scale(1.027 1)">(normalized to sg<tspan font-style="italic">Inerts</tspan>)</text>
<rect x="258.6" y="584.7" width="18.4" height="245.9" fill="#4C4F5B" stroke-width="3.8"/>
<rect x="277.0" y="674.8" width="17.7" height="155.8" fill="#9DA8CA" stroke-width="3.8"/>
<line x1="268.3" y1="551.3" x2="268.3" y2="616.1" stroke-width="3.7"/>
<line x1="286.0" y1="635.0" x2="286.0" y2="714.7" stroke-width="3.5"/>
<rect x="303.5" y="634.6" width="18.4" height="196.0" fill="#4C4F5B" stroke-width="3.8"/>
<rect x="321.9" y="720.2" width="17.7" height="110.4" fill="#9DA8CA" stroke-width="3.8"/>
<line x1="313.2" y1="606.1" x2="313.2" y2="660.9" stroke-width="3.7"/>
<line x1="330.9" y1="690.1" x2="330.9" y2="747.2" stroke-width="3.5"/>
<rect x="348.4" y="646.2" width="18.4" height="184.4" fill="#4C4F5B" stroke-width="3.8"/>
<rect x="366.8" y="729.2" width="17.7" height="101.4" fill="#9DA8CA" stroke-width="3.8"/>
<line x1="358.1" y1="618.7" x2="358.1" y2="670.9" stroke-width="3.7"/>
<line x1="375.8" y1="700.7" x2="375.8" y2="754.9" stroke-width="3.5"/>
<rect x="393.3" y="655.5" width="18.4" height="175.1" fill="#4C4F5B" stroke-width="3.8"/>
<rect x="411.7" y="736.9" width="17.7" height="93.7" fill="#9DA8CA" stroke-width="3.8"/>
<line x1="403.0" y1="630.4" x2="403.0" y2="679.2" stroke-width="3.7"/>
<line x1="420.7" y1="710.7" x2="420.7" y2="761.2" stroke-width="3.5"/>
<rect x="438.2" y="664.5" width="18.4" height="166.1" fill="#4C4F5B" stroke-width="3.8"/>
<rect x="456.6" y="743.5" width="17.7" height="87.1" fill="#9DA8CA" stroke-width="3.8"/>
<line x1="447.9" y1="639.3" x2="447.9" y2="685.8" stroke-width="3.7"/>
<line x1="465.6" y1="719.0" x2="465.6" y2="765.5" stroke-width="3.5"/>
<rect x="483.1" y="674.4" width="18.4" height="156.2" fill="#4C4F5B" stroke-width="3.8"/>
<rect x="501.5" y="751.4" width="17.7" height="79.2" fill="#9DA8CA" stroke-width="3.8"/>
<line x1="492.8" y1="650.9" x2="492.8" y2="695.8" stroke-width="3.7"/>
<line x1="510.5" y1="729.0" x2="510.5" y2="771.5" stroke-width="3.5"/>
<rect x="528.0" y="688.4" width="18.4" height="142.2" fill="#4C4F5B" stroke-width="3.8"/>
<rect x="546.4" y="761.4" width="17.7" height="69.2" fill="#9DA8CA" stroke-width="3.8"/>
<line x1="537.7" y1="667.5" x2="537.7" y2="705.7" stroke-width="3.7"/>
<line x1="555.4" y1="741.6" x2="555.4" y2="778.8" stroke-width="3.5"/>
<line x1="250.1" y1="548.7" x2="250.1" y2="831.7" stroke-width="3.8"/>
<line x1="245.6" y1="828.7" x2="572.4" y2="828.7" stroke-width="6.4"/>
<g font-size="25.8" text-anchor="middle">
<rect x="245.1" y="589.8" width="3.2" height="3.2" fill="#222" stroke="none"/>
<text transform="translate(224.8 597.0) scale(0.96 1)">16</text>
<rect x="245.1" y="649.2" width="3.2" height="3.2" fill="#222" stroke="none"/>
<text transform="translate(224.8 656.4) scale(0.96 1)">8</text>
<rect x="245.1" y="708.0" width="3.2" height="3.2" fill="#222" stroke="none"/>
<text transform="translate(224.8 715.2) scale(0.96 1)">4</text>
<rect x="245.1" y="767.1" width="3.2" height="3.2" fill="#222" stroke="none"/>
<text transform="translate(224.8 774.3) scale(0.96 1)">2</text>
<rect x="245.1" y="826.2" width="3.2" height="3.2" fill="#222" stroke="none"/>
<text transform="translate(224.8 833.4) scale(0.96 1)">1</text>
</g>
<g font-size="41" font-weight="bold" text-anchor="middle">
<text transform="translate(280.5 555.5)">*</text>
<text transform="translate(323.7 593.7)">*</text>
<text transform="translate(367.9 606.0)">*</text>
<text transform="translate(412.4 618.6)">*</text>
<text transform="translate(455.8 625.3)">*</text>
<text transform="translate(503.7 638.6)">*</text>
<text transform="translate(547.8 650.2)">*</text>
</g>
<g font-size="27.0" text-anchor="end">
<text transform="translate(280.6 839.8) rotate(-90) scale(0.948 1)">−50%</text>
<text transform="translate(325.4 839.8) rotate(-90) scale(0.948 1)">−25%</text>
<text transform="translate(370.1 839.8) rotate(-90) scale(0.948 1)">−10%</text>
<text transform="translate(414.9 839.8) rotate(-90) scale(0.948 1)">Baseline</text>
<text transform="translate(459.7 839.8) rotate(-90) scale(0.948 1)">+10%</text>
<text transform="translate(504.5 839.8) rotate(-90) scale(0.948 1)">+25%</text>
<text transform="translate(549.2 839.8) rotate(-90) scale(0.948 1)">+50%</text>
</g>
<text font-size="26.6" text-anchor="middle" transform="translate(412.4 970.8) scale(1.11 1)">Number of adaptively</text>
<text font-size="26.6" text-anchor="middle" transform="translate(412.4 991.7) scale(1.11 1)">sampled tumors</text>
<text font-size="24.2" transform="translate(342.8 1014.8) scale(1.1 1)">(N</text>
<text font-size="16.1" transform="translate(370.6 1024.2) scale(1.03 1)">i=NT1, j=Young</text>
<text font-size="24.2" transform="translate(483.4 1014.8) scale(1.1 1)">)</text>
<text font-size="30.1" text-anchor="middle" transform="translate(143.7 693.5) rotate(-90) scale(0.965 1)">sg<tspan font-style="italic">Pten</tspan> Adaptively Sampled Mean</text>
<text font-size="25.5" text-anchor="middle" transform="translate(175.2 694.0) rotate(-90) scale(0.968 1)">(normalized to sg<tspan font-style="italic">Inerts</tspan>)</text>
<rect x="254.2" y="1560.8" width="17.0" height="242.4" fill="#4C4F5B" stroke-width="3.8"/>
<rect x="271.2" y="1608.9" width="17.4" height="194.3" fill="#9DA8CA" stroke-width="3.8"/>
<line x1="262.5" y1="1535.7" x2="262.5" y2="1584.5" stroke-width="3.7"/>
<line x1="279.9" y1="1578.8" x2="279.9" y2="1639.2" stroke-width="3.5"/>
<rect x="297.4" y="1579.4" width="17.0" height="223.8" fill="#4C4F5B" stroke-width="3.8"/>
<rect x="314.4" y="1649.1" width="17.4" height="154.1" fill="#9DA8CA" stroke-width="3.8"/>
<line x1="305.7" y1="1556.2" x2="305.7" y2="1601.1" stroke-width="3.7"/>
<line x1="323.1" y1="1621.6" x2="323.1" y2="1675.8" stroke-width="3.5"/>
<rect x="340.5" y="1591.3" width="17.0" height="211.9" fill="#4C4F5B" stroke-width="3.8"/>
<rect x="357.5" y="1666.0" width="17.4" height="137.2" fill="#9DA8CA" stroke-width="3.8"/>
<line x1="348.8" y1="1568.5" x2="348.8" y2="1611.7" stroke-width="3.7"/>
<line x1="366.2" y1="1640.2" x2="366.2" y2="1689.7" stroke-width="3.5"/>
<rect x="383.7" y="1598.6" width="17.0" height="204.6" fill="#4C4F5B" stroke-width="3.8"/>
<rect x="400.7" y="1675.0" width="17.4" height="128.2" fill="#9DA8CA" stroke-width="3.8"/>
<line x1="392.0" y1="1576.8" x2="392.0" y2="1618.7" stroke-width="3.7"/>
<line x1="409.4" y1="1650.5" x2="409.4" y2="1697.3" stroke-width="3.5"/>
<rect x="426.9" y="1605.3" width="17.0" height="197.9" fill="#4C4F5B" stroke-width="3.8"/>
<rect x="443.9" y="1683.0" width="17.4" height="120.2" fill="#9DA8CA" stroke-width="3.8"/>
<line x1="435.2" y1="1583.5" x2="435.2" y2="1624.3" stroke-width="3.7"/>
<line x1="452.6" y1="1659.5" x2="452.6" y2="1704.0" stroke-width="3.5"/>
<rect x="470.1" y="1614.6" width="17.0" height="188.6" fill="#4C4F5B" stroke-width="3.8"/>
<rect x="487.1" y="1693.3" width="17.4" height="109.9" fill="#9DA8CA" stroke-width="3.8"/>
<line x1="478.4" y1="1594.4" x2="478.4" y2="1634.3" stroke-width="3.7"/>
<line x1="495.8" y1="1671.4" x2="495.8" y2="1712.3" stroke-width="3.5"/>
<rect x="513.2" y="1628.5" width="17.0" height="174.7" fill="#4C4F5B" stroke-width="3.8"/>
<rect x="530.2" y="1705.9" width="17.4" height="97.3" fill="#9DA8CA" stroke-width="3.8"/>
<line x1="521.5" y1="1608.7" x2="521.5" y2="1647.5" stroke-width="3.7"/>
<line x1="538.9" y1="1687.0" x2="538.9" y2="1723.2" stroke-width="3.5"/>
<line x1="245.2" y1="1533.0" x2="245.2" y2="1804.3" stroke-width="3.8"/>
<line x1="240.7" y1="1801.3" x2="555.2" y2="1801.3" stroke-width="6.4"/>
<g font-size="27.9" text-anchor="middle">
<rect x="240.2" y="1572.6" width="3.2" height="3.2" fill="#222" stroke="none"/>
<text transform="translate(221.8 1579.8) scale(0.96 1)">32</text>
<rect x="240.2" y="1663.0" width="3.2" height="3.2" fill="#222" stroke="none"/>
<text transform="translate(221.8 1670.2) scale(0.96 1)">8</text>
<rect x="240.2" y="1752.2" width="3.2" height="3.2" fill="#222" stroke="none"/>
<text transform="translate(221.8 1759.4) scale(0.96 1)">2</text>
</g>
<g font-size="41" font-weight="bold" text-anchor="middle">
<text transform="translate(270.6 1538.9)">*</text>
<text transform="translate(315.4 1549.8)">*</text>
<text transform="translate(358.6 1565.4)">*</text>
<text transform="translate(401.0 1573.7)">*</text>
<text transform="translate(443.9 1582.0)">*</text>
<text transform="translate(489.7 1593.0)">*</text>
<text transform="translate(532.9 1608.6)">*</text>
</g>
<g font-size="25.8" text-anchor="end">
<text transform="translate(276.8 1812.0) rotate(-90) scale(0.965 1)">−50%</text>
<text transform="translate(319.9 1812.0) rotate(-90) scale(0.965 1)">−25%</text>
<text transform="translate(363.0 1812.0) rotate(-90) scale(0.965 1)">−10%</text>
<text transform="translate(406.1 1812.0) rotate(-90) scale(0.965 1)">Baseline</text>
<text transform="translate(449.2 1812.0) rotate(-90) scale(0.965 1)">+10%</text>
<text transform="translate(492.3 1812.0) rotate(-90) scale(0.965 1)">+25%</text>
<text transform="translate(535.4 1812.0) rotate(-90) scale(0.965 1)">+50%</text>
</g>
<text font-size="25.9" text-anchor="middle" transform="translate(384.1 1945.4) scale(1.093 1)">Number of adaptively</text>
<text font-size="25.9" text-anchor="middle" transform="translate(384.1 1969.3) scale(1.093 1)">sampled tumors</text>
<text font-size="24.2" transform="translate(314.4 1995.0) scale(1.1 1)">(N</text>
<text font-size="16.1" transform="translate(340.8 2003.5) scale(1.03 1)">i=NT1, j=Young</text>
<text font-size="24.2" transform="translate(454.1 1995.0) scale(1.1 1)">)</text>
<text font-size="29.8" text-anchor="middle" transform="translate(160.3 1723.5) rotate(-90) scale(0.931 1)">sg<tspan font-style="italic">Pten</tspan> Adaptively Sampled Mean</text>
<text font-size="25.5" text-anchor="middle" transform="translate(192.5 1721.0) rotate(-90) scale(0.945 1)">(normalized to sg<tspan font-style="italic">Inerts</tspan>)</text>
<rect x="924.4" y="632.3" width="33.7" height="147.6" fill="#59589B" stroke-width="3.9"/>
<rect x="966.3" y="632.3" width="33.7" height="90.5" fill="#59589B" stroke-width="3.9"/>
<rect x="1008.3" y="632.3" width="33.7" height="50.7" fill="#59589B" stroke-width="3.9"/>
<rect x="1050.3" y="632.3" width="33.7" height="49.0" fill="#59589B" stroke-width="3.9"/>
<rect x="1092.2" y="632.3" width="33.7" height="43.7" fill="#59589B" stroke-width="3.9"/>
<rect x="1134.2" y="632.3" width="33.7" height="27.8" fill="#59589B" stroke-width="3.9"/>
<rect x="1176.2" y="632.3" width="33.7" height="24.3" fill="#59589B" stroke-width="3.9"/>
<rect x="1218.1" y="632.3" width="33.7" height="23.6" fill="#59589B" stroke-width="3.9"/>
<rect x="1260.1" y="632.3" width="33.7" height="19.7" fill="#59589B" stroke-width="3.9"/>
<rect x="1302.1" y="632.3" width="33.7" height="14.8" fill="#59589B" stroke-width="3.9"/>
<rect x="1344.1" y="632.3" width="33.7" height="13.7" fill="#59589B" stroke-width="3.9"/>
<rect x="1386.0" y="632.3" width="33.7" height="10.9" fill="#59589B" stroke-width="3.9"/>
<rect x="1428.0" y="632.3" width="33.7" height="10.2" fill="#59589B" stroke-width="3.9"/>
<rect x="1470.0" y="632.3" width="33.7" height="3.0" fill="#59589B" stroke-width="3.9"/>
<rect x="1553.9" y="630.4" width="33.7" height="1.9" fill="#59589B" stroke-width="3.9"/>
<rect x="1595.9" y="613.3" width="33.7" height="19.0" fill="#59589B" stroke-width="3.9"/>
<rect x="1637.8" y="602.7" width="33.7" height="29.6" fill="#59589B" stroke-width="3.9"/>
<rect x="1679.8" y="544.6" width="33.7" height="87.7" fill="#59589B" stroke-width="3.9"/>
<line x1="941.2" y1="680.6" x2="941.2" y2="896.8" stroke-width="3.8"/>
<line x1="983.2" y1="675.3" x2="983.2" y2="773.5" stroke-width="3.8"/>
<line x1="1025.1" y1="649.6" x2="1025.1" y2="713.7" stroke-width="3.8"/>
<line x1="1067.1" y1="653.1" x2="1067.1" y2="707.0" stroke-width="3.8"/>
<line x1="1109.1" y1="648.9" x2="1109.1" y2="701.3" stroke-width="3.8"/>
<line x1="1151.0" y1="638.3" x2="1151.0" y2="680.2" stroke-width="3.8"/>
<line x1="1193.0" y1="629.5" x2="1193.0" y2="686.9" stroke-width="3.8"/>
<line x1="1235.0" y1="633.7" x2="1235.0" y2="678.1" stroke-width="3.8"/>
<line x1="1277.0" y1="628.5" x2="1277.0" y2="673.5" stroke-width="3.8"/>
<line x1="1318.9" y1="610.1" x2="1318.9" y2="708.0" stroke-width="3.8"/>
<line x1="1360.9" y1="609.4" x2="1360.9" y2="688.3" stroke-width="3.8"/>
<line x1="1402.9" y1="597.5" x2="1402.9" y2="692.5" stroke-width="3.8"/>
<line x1="1444.8" y1="600.3" x2="1444.8" y2="719.3" stroke-width="3.8"/>
<line x1="1486.8" y1="604.9" x2="1486.8" y2="668.9" stroke-width="3.8"/>
<line x1="1570.8" y1="594.3" x2="1570.8" y2="664.0" stroke-width="3.8"/>
<line x1="1612.7" y1="573.2" x2="1612.7" y2="662.6" stroke-width="3.8"/>
<line x1="1654.7" y1="578.1" x2="1654.7" y2="632.0" stroke-width="3.8"/>
<line x1="1696.7" y1="508.0" x2="1696.7" y2="582.0" stroke-width="3.8"/>
<line x1="915.9" y1="500.5" x2="915.9" y2="906.3" stroke-width="2.8"/>
<line x1="914.5" y1="904.9" x2="1722.0" y2="904.9" stroke-width="2.8"/>
<line x1="915.9" y1="632.3" x2="1722.0" y2="632.3" stroke-width="4.0"/>
<g font-size="26.9" text-anchor="end">
<rect x="920.1" y="509.7" width="4.4" height="3.2" fill="#222" stroke="none"/>
<text transform="translate(912.6 516.7) scale(0.985 1)">1.0</text>
<rect x="911.2" y="570.2" width="3.4" height="3.4" fill="#222" stroke="none"/>
<text transform="translate(903.2 578.3) scale(0.985 1)">0.5</text>
<rect x="911.2" y="630.6" width="3.4" height="3.4" fill="#222" stroke="none"/>
<text transform="translate(903.2 638.7) scale(0.985 1)">0.0</text>
<rect x="911.2" y="691.0" width="3.4" height="3.4" fill="#222" stroke="none"/>
<text transform="translate(903.2 699.1) scale(0.985 1)">−0.5</text>
<rect x="911.2" y="751.5" width="3.4" height="3.4" fill="#222" stroke="none"/>
<text transform="translate(903.2 759.6) scale(0.985 1)">−1.0</text>
<rect x="911.2" y="811.9" width="3.4" height="3.4" fill="#222" stroke="none"/>
<text transform="translate(903.2 820.0) scale(0.985 1)">−1.5</text>
<rect x="911.2" y="872.3" width="3.4" height="3.4" fill="#222" stroke="none"/>
<text transform="translate(903.2 880.4) scale(0.985 1)">−2.0</text>
</g>
<rect x="939.2" y="906.3" width="4.0" height="2.9" fill="#444" stroke="none"/>
<rect x="981.2" y="906.3" width="4.0" height="2.9" fill="#444" stroke="none"/>
<rect x="1023.1" y="906.3" width="4.0" height="2.9" fill="#444" stroke="none"/>
<rect x="1065.1" y="906.3" width="4.0" height="2.9" fill="#444" stroke="none"/>
<rect x="1107.1" y="906.3" width="4.0" height="2.9" fill="#444" stroke="none"/>
<rect x="1149.0" y="906.3" width="4.0" height="2.9" fill="#444" stroke="none"/>
<rect x="1191.0" y="906.3" width="4.0" height="2.9" fill="#444" stroke="none"/>
<rect x="1233.0" y="906.3" width="4.0" height="2.9" fill="#444" stroke="none"/>
<rect x="1275.0" y="906.3" width="4.0" height="2.9" fill="#444" stroke="none"/>
<rect x="1316.9" y="906.3" width="4.0" height="2.9" fill="#444" stroke="none"/>
<rect x="1358.9" y="906.3" width="4.0" height="2.9" fill="#444" stroke="none"/>
<rect x="1400.9" y="906.3" width="4.0" height="2.9" fill="#444" stroke="none"/>
<rect x="1442.8" y="906.3" width="4.0" height="2.9" fill="#444" stroke="none"/>
<rect x="1484.8" y="906.3" width="4.0" height="2.9" fill="#444" stroke="none"/>
<rect x="1526.8" y="906.3" width="4.0" height="2.9" fill="#444" stroke="none"/>
<rect x="1568.8" y="906.3" width="4.0" height="2.9" fill="#444" stroke="none"/>
<rect x="1610.7" y="906.3" width="4.0" height="2.9" fill="#444" stroke="none"/>
<rect x="1652.7" y="906.3" width="4.0" height="2.9" fill="#444" stroke="none"/>
<rect x="1694.7" y="906.3" width="4.0" height="2.9" fill="#444" stroke="none"/>
<g font-size="26.8" font-style="italic" text-anchor="end">
<text transform="translate(946.9 921.0) rotate(-90) scale(0.97 1)">Pten</text>
<text transform="translate(988.9 921.0) rotate(-90) scale(0.97 1)">Nf1</text>
<text transform="translate(1030.8 921.0) rotate(-90) scale(0.97 1)">Rb1</text>
<text transform="translate(1072.8 921.0) rotate(-90) scale(0.97 1)">p53</text>
<text transform="translate(1114.8 921.0) rotate(-90) scale(0.97 1)">Cmtr2</text>
<text transform="translate(1156.8 921.0) rotate(-90) scale(0.97 1)">Cdkn2a</text>
<text transform="translate(1198.7 921.0) rotate(-90) scale(0.97 1)">Fbxw7</text>
<text transform="translate(1240.7 921.0) rotate(-90) scale(0.97 1)">Dnmt3a</text>
<text transform="translate(1282.7 921.0) rotate(-90) scale(0.97 1)">Rbm10</text>
<text transform="translate(1324.6 921.0) rotate(-90) scale(0.97 1)">Stag2</text>
<text transform="translate(1366.6 921.0) rotate(-90) scale(0.97 1)">Setd2</text>
<text transform="translate(1408.6 921.0) rotate(-90) scale(0.97 1)">Cdkn2c</text>
<text transform="translate(1450.5 921.0) rotate(-90) scale(0.97 1)">Lkb1</text>
<text transform="translate(1492.5 921.0) rotate(-90) scale(0.97 1)">Keap1</text>
<text transform="translate(1534.5 921.0) rotate(-90) scale(0.97 1)">Inert</text>
<text transform="translate(1576.5 921.0) rotate(-90) scale(0.97 1)">Rnf43</text>
<text transform="translate(1618.4 921.0) rotate(-90) scale(0.97 1)">Nf2</text>
<text transform="translate(1660.4 921.0) rotate(-90) scale(0.97 1)">Arid1a</text>
<text transform="translate(1702.4 921.0) rotate(-90) scale(0.97 1)">Smarca4</text>
</g>
<g font-size="41" font-weight="bold" text-anchor="middle">
<text transform="translate(937.9 616.0)">*</text>
<text transform="translate(982.3 616.0)">*</text>
<text transform="translate(1022.7 616.0)">*</text>
<text transform="translate(1066.0 616.0)">*</text>
<text transform="translate(1110.4 616.0)">*</text>
<text transform="translate(1150.6 616.0)">*</text>
<text transform="translate(1694.6 505.1)">*</text>
</g>
<text font-size="31.25" text-anchor="middle" transform="translate(838.8 687.3) rotate(-90) scale(0.933 1)">scoreRGM</text>
<line x1="1734.7" y1="614.0" x2="1734.7" y2="550.1" stroke-width="2.6"/>
<path d="M1734.7 525.2L1745.9 560.8Q1734.7 553.7 1734.7 555.1Q1734.7 553.7 1723.5 560.8Z" fill="#000" stroke="none"/>
<line x1="1734.7" y1="653.8" x2="1734.7" y2="718.5" stroke-width="2.6"/>
<path d="M1734.7 743.4L1745.9 707.8Q1734.7 714.9 1734.7 713.5Q1734.7 714.9 1723.5 707.8Z" fill="#000" stroke="none"/>
<g font-size="24.7">
<text transform="translate(1750.6 538.0) scale(1.045 1)">More tumor</text>
<text transform="translate(1750.6 564.6) scale(1.045 1)">suppressive</text>
<text transform="translate(1750.6 590.2) scale(1.045 1)">in aged</text>
<text transform="translate(1750.6 690.2) scale(1.045 1)">More tumor</text>
<text transform="translate(1750.6 716.5) scale(1.045 1)">suppressive</text>
<text transform="translate(1750.6 741.7) scale(1.045 1)">in young</text>
</g>
<rect x="907.9" y="1623.9" width="32.7" height="161.3" fill="#59589B" stroke-width="4.1"/>
<rect x="948.2" y="1623.9" width="32.7" height="156.6" fill="#59589B" stroke-width="4.1"/>
<rect x="988.5" y="1623.9" width="32.7" height="115.0" fill="#59589B" stroke-width="4.1"/>
<rect x="1028.8" y="1623.9" width="32.7" height="84.9" fill="#59589B" stroke-width="4.1"/>
<rect x="1069.1" y="1623.9" width="32.7" height="55.3" fill="#59589B" stroke-width="4.1"/>
<rect x="1109.4" y="1623.9" width="32.7" height="38.5" fill="#59589B" stroke-width="4.1"/>
<rect x="1149.7" y="1623.9" width="32.7" height="17.9" fill="#59589B" stroke-width="4.1"/>
<rect x="1190.0" y="1623.9" width="32.7" height="11.6" fill="#59589B" stroke-width="4.1"/>
<rect x="1230.3" y="1623.9" width="32.7" height="11.6" fill="#59589B" stroke-width="4.1"/>
<rect x="1270.6" y="1623.9" width="32.7" height="8.1" fill="#59589B" stroke-width="4.1"/>
<rect x="1310.8" y="1623.9" width="32.7" height="3.8" fill="#59589B" stroke-width="4.1"/>
<rect x="1351.1" y="1623.9" width="32.7" height="2.1" fill="#59589B" stroke-width="4.1"/>
<rect x="1391.4" y="1623.9" width="32.7" height="0.5" fill="#59589B" stroke-width="4.1"/>
<rect x="1472.0" y="1617.2" width="32.7" height="6.7" fill="#59589B" stroke-width="4.1"/>
<rect x="1512.3" y="1611.5" width="32.7" height="12.4" fill="#59589B" stroke-width="4.1"/>
<rect x="1552.6" y="1590.8" width="32.7" height="33.1" fill="#59589B" stroke-width="4.1"/>
<rect x="1592.9" y="1579.5" width="32.7" height="44.4" fill="#59589B" stroke-width="4.1"/>
<rect x="1633.2" y="1561.2" width="32.7" height="62.7" fill="#59589B" stroke-width="4.1"/>
<line x1="924.3" y1="1684.1" x2="924.3" y2="1902.4" stroke-width="4.0"/>
<line x1="964.6" y1="1746.4" x2="964.6" y2="1810.8" stroke-width="4.0"/>
<line x1="1004.9" y1="1668.9" x2="1004.9" y2="1826.3" stroke-width="4.0"/>
<line x1="1045.2" y1="1679.5" x2="1045.2" y2="1736.5" stroke-width="4.0"/>
<line x1="1085.5" y1="1637.6" x2="1085.5" y2="1724.9" stroke-width="4.0"/>
<line x1="1125.8" y1="1618.6" x2="1125.8" y2="1708.7" stroke-width="4.0"/>
<line x1="1166.0" y1="1614.4" x2="1166.0" y2="1669.6" stroke-width="4.0"/>
<line x1="1206.3" y1="1608.7" x2="1206.3" y2="1659.4" stroke-width="4.0"/>
<line x1="1246.6" y1="1590.8" x2="1246.6" y2="1681.3" stroke-width="4.0"/>
<line x1="1286.9" y1="1585.8" x2="1286.9" y2="1682.0" stroke-width="4.0"/>
<line x1="1327.2" y1="1575.3" x2="1327.2" y2="1693.6" stroke-width="4.0"/>
<line x1="1367.5" y1="1602.0" x2="1367.5" y2="1647.8" stroke-width="4.0"/>
<line x1="1407.8" y1="1593.2" x2="1407.8" y2="1651.0" stroke-width="4.0"/>
<line x1="1488.4" y1="1595.4" x2="1488.4" y2="1642.9" stroke-width="4.0"/>
<line x1="1528.7" y1="1583.4" x2="1528.7" y2="1648.9" stroke-width="4.0"/>
<line x1="1568.9" y1="1570.7" x2="1568.9" y2="1612.6" stroke-width="4.0"/>
<line x1="1609.2" y1="1557.0" x2="1609.2" y2="1604.9" stroke-width="4.0"/>
<line x1="1649.5" y1="1529.9" x2="1649.5" y2="1595.7" stroke-width="4.0"/>
<line x1="900.3" y1="1522.8" x2="900.3" y2="1911.8" stroke-width="2.8"/>
<line x1="898.9" y1="1910.4" x2="1673.5" y2="1910.4" stroke-width="2.8"/>
<line x1="900.3" y1="1623.9" x2="1673.5" y2="1623.9" stroke-width="4.199999999999999"/>
<g font-size="25.8" text-anchor="end">
<rect x="895.6" y="1558.2" width="3.4" height="3.4" fill="#222" stroke="none"/>
<text transform="translate(889.0 1566.3) scale(0.985 1)">0.5</text>
<rect x="895.6" y="1622.1" width="3.4" height="3.4" fill="#222" stroke="none"/>
<text transform="translate(889.0 1630.2) scale(0.985 1)">0.0</text>
<rect x="895.6" y="1685.9" width="3.4" height="3.4" fill="#222" stroke="none"/>
<text transform="translate(889.0 1694.0) scale(0.985 1)">−0.5</text>
<rect x="895.6" y="1749.7" width="3.4" height="3.4" fill="#222" stroke="none"/>
<text transform="translate(889.0 1757.8) scale(0.985 1)">−1.0</text>
<rect x="895.6" y="1813.6" width="3.4" height="3.4" fill="#222" stroke="none"/>
<text transform="translate(889.0 1821.7) scale(0.985 1)">−1.5</text>
<rect x="895.6" y="1877.4" width="3.4" height="3.4" fill="#222" stroke="none"/>
<text transform="translate(889.0 1885.5) scale(0.985 1)">−2.0</text>
</g>
<rect x="922.3" y="1911.8" width="4.0" height="2.9" fill="#444" stroke="none"/>
<rect x="962.6" y="1911.8" width="4.0" height="2.9" fill="#444" stroke="none"/>
<rect x="1002.9" y="1911.8" width="4.0" height="2.9" fill="#444" stroke="none"/>
<rect x="1043.2" y="1911.8" width="4.0" height="2.9" fill="#444" stroke="none"/>
<rect x="1083.5" y="1911.8" width="4.0" height="2.9" fill="#444" stroke="none"/>
<rect x="1123.8" y="1911.8" width="4.0" height="2.9" fill="#444" stroke="none"/>
<rect x="1164.0" y="1911.8" width="4.0" height="2.9" fill="#444" stroke="none"/>
<rect x="1204.3" y="1911.8" width="4.0" height="2.9" fill="#444" stroke="none"/>
<rect x="1244.6" y="1911.8" width="4.0" height="2.9" fill="#444" stroke="none"/>
<rect x="1284.9" y="1911.8" width="4.0" height="2.9" fill="#444" stroke="none"/>
<rect x="1325.2" y="1911.8" width="4.0" height="2.9" fill="#444" stroke="none"/>
<rect x="1365.5" y="1911.8" width="4.0" height="2.9" fill="#444" stroke="none"/>
<rect x="1405.8" y="1911.8" width="4.0" height="2.9" fill="#444" stroke="none"/>
<rect x="1446.1" y="1911.8" width="4.0" height="2.9" fill="#444" stroke="none"/>
<rect x="1486.4" y="1911.8" width="4.0" height="2.9" fill="#444" stroke="none"/>
<rect x="1526.7" y="1911.8" width="4.0" height="2.9" fill="#444" stroke="none"/>
<rect x="1566.9" y="1911.8" width="4.0" height="2.9" fill="#444" stroke="none"/>
<rect x="1607.2" y="1911.8" width="4.0" height="2.9" fill="#444" stroke="none"/>
<rect x="1647.5" y="1911.8" width="4.0" height="2.9" fill="#444" stroke="none"/>
<g font-size="26.2" font-style="italic" text-anchor="end">
<text transform="translate(930.1 1926.4) rotate(-90) scale(0.931 1)">Pten</text>
<text transform="translate(970.4 1926.4) rotate(-90) scale(0.931 1)">Rb1</text>
<text transform="translate(1010.7 1926.4) rotate(-90) scale(0.931 1)">Lkb1</text>
<text transform="translate(1051.0 1926.4) rotate(-90) scale(0.931 1)">Cdkn2a</text>
<text transform="translate(1091.3 1926.4) rotate(-90) scale(0.931 1)">Nf1</text>
<text transform="translate(1131.5 1926.4) rotate(-90) scale(0.931 1)">Nf2</text>
<text transform="translate(1171.8 1926.4) rotate(-90) scale(0.931 1)">Cmtr2</text>
<text transform="translate(1212.1 1926.4) rotate(-90) scale(0.931 1)">Dnmt3a</text>
<text transform="translate(1252.4 1926.4) rotate(-90) scale(0.931 1)">Cdkn2c</text>
<text transform="translate(1292.7 1926.4) rotate(-90) scale(0.931 1)">Setd2</text>
<text transform="translate(1333.0 1926.4) rotate(-90) scale(0.931 1)">Stag2</text>
<text transform="translate(1373.3 1926.4) rotate(-90) scale(0.931 1)">Fbxw7</text>
<text transform="translate(1413.6 1926.4) rotate(-90) scale(0.931 1)">Rnf43</text>
<text transform="translate(1453.9 1926.4) rotate(-90) scale(0.931 1)">Inert</text>
<text transform="translate(1494.2 1926.4) rotate(-90) scale(0.931 1)">Rbm10</text>
<text transform="translate(1534.5 1926.4) rotate(-90) scale(0.931 1)">Keap1</text>
<text transform="translate(1574.7 1926.4) rotate(-90) scale(0.931 1)">p53</text>
<text transform="translate(1615.0 1926.4) rotate(-90) scale(0.931 1)">Arid1a</text>
<text transform="translate(1655.3 1926.4) rotate(-90) scale(0.931 1)">Smarca4</text>
</g>
<g font-size="41" font-weight="bold" text-anchor="middle">
<text transform="translate(921.6 1595.0)">*</text>
<text transform="translate(960.4 1595.0)">*</text>
<text transform="translate(1003.4 1595.0)">*</text>
<text transform="translate(1042.1 1595.0)">*</text>
<text transform="translate(1084.0 1595.0)">*</text>
<text transform="translate(1568.2 1559.7)">*</text>
<text transform="translate(1607.6 1536.1)">*</text>
<text transform="translate(1649.2 1521.0)">*</text>
</g>
<text font-size="30.4" text-anchor="middle" transform="translate(825.9 1704.7) rotate(-90) scale(0.907 1)">scoreRGM</text>
<line x1="1686.1" y1="1605.6" x2="1686.1" y2="1545.6" stroke-width="2.6"/>
<path d="M1686.1 1520.4L1697.6 1556.4Q1686.1 1549.2 1686.1 1550.6Q1686.1 1549.2 1674.6 1556.4Z" fill="#000" stroke="none"/>
<line x1="1686.1" y1="1640.1" x2="1686.1" y2="1700.8" stroke-width="2.6"/>
<path d="M1686.1 1726.0L1697.6 1690.0Q1686.1 1697.2 1686.1 1695.8Q1686.1 1697.2 1674.6 1690.0Z" fill="#000" stroke="none"/>
<g font-size="26.1">
<text transform="translate(1701.5 1533.4) scale(1.045 1)">More tumor</text>
<text transform="translate(1701.5 1558.0) scale(1.045 1)">suppressive</text>
<text transform="translate(1701.5 1582.7) scale(1.045 1)">in aged</text>
<text transform="translate(1701.5 1674.2) scale(1.045 1)">More tumor</text>
<text transform="translate(1701.5 1698.9) scale(1.045 1)">suppressive</text>
<text transform="translate(1701.5 1723.5) scale(1.045 1)">in young</text>
</g>
</g></svg>
</body></html>
